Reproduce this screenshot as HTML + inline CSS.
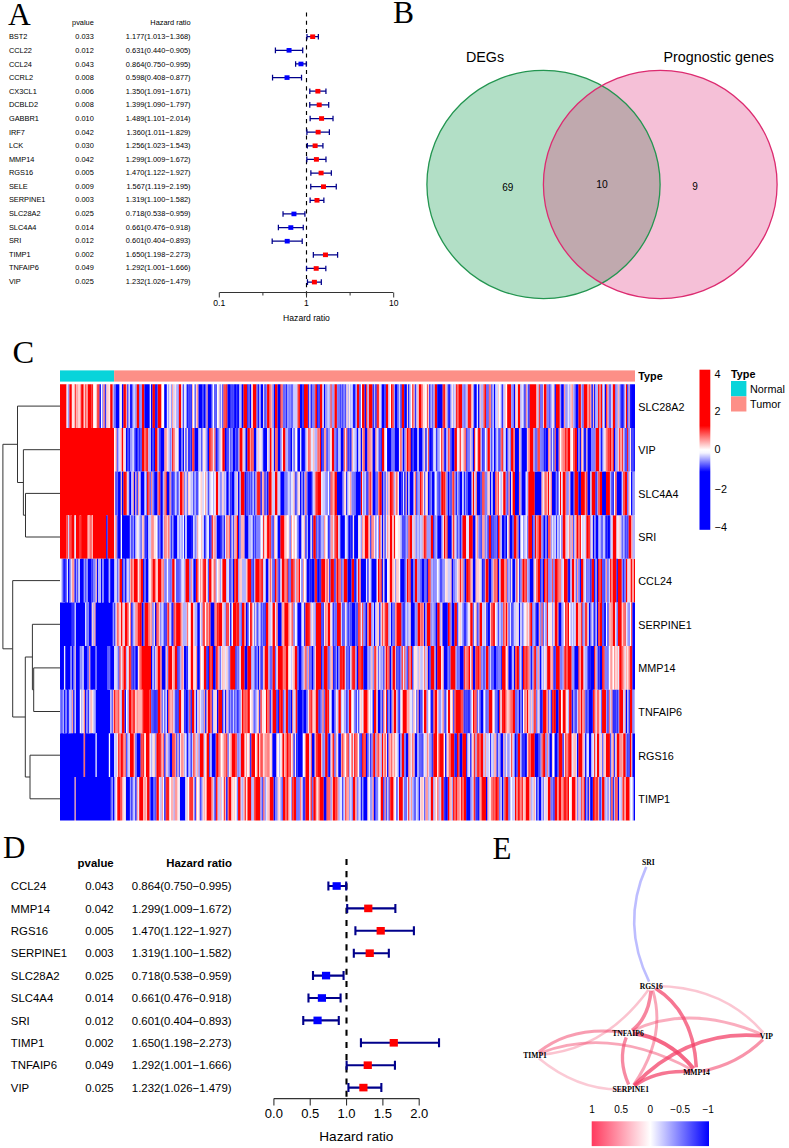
<!DOCTYPE html>
<html><head><meta charset="utf-8"><style>
html,body{margin:0;padding:0;background:#fff;width:789px;height:1148px;overflow:hidden}
svg{display:block}
</style></head><body>
<svg width="789" height="1148" viewBox="0 0 789 1148">
<rect width="789" height="1148" fill="#fff"/>
<text x="8" y="25.3" font-family="Liberation Serif, serif" font-size="31.5">A</text>
<g font-family="Liberation Sans, sans-serif" font-size="7.4" fill="#000">
<text x="93.8" y="25.45" text-anchor="end">pvalue</text>
<text x="190.6" y="25.45" text-anchor="end">Hazard ratio</text>
<text x="8.9" y="39.40">BST2</text>
<text x="93.8" y="39.40" text-anchor="end">0.033</text>
<text x="190.6" y="39.40" text-anchor="end">1.177(1.013−1.368)</text>
<text x="8.9" y="52.99">CCL22</text>
<text x="93.8" y="52.99" text-anchor="end">0.012</text>
<text x="190.6" y="52.99" text-anchor="end">0.631(0.440−0.905)</text>
<text x="8.9" y="66.57">CCL24</text>
<text x="93.8" y="66.57" text-anchor="end">0.043</text>
<text x="190.6" y="66.57" text-anchor="end">0.864(0.750−0.995)</text>
<text x="8.9" y="80.16">CCRL2</text>
<text x="93.8" y="80.16" text-anchor="end">0.008</text>
<text x="190.6" y="80.16" text-anchor="end">0.598(0.408−0.877)</text>
<text x="8.9" y="93.74">CX3CL1</text>
<text x="93.8" y="93.74" text-anchor="end">0.006</text>
<text x="190.6" y="93.74" text-anchor="end">1.350(1.091−1.671)</text>
<text x="8.9" y="107.33">DCBLD2</text>
<text x="93.8" y="107.33" text-anchor="end">0.008</text>
<text x="190.6" y="107.33" text-anchor="end">1.399(1.090−1.797)</text>
<text x="8.9" y="120.92">GABBR1</text>
<text x="93.8" y="120.92" text-anchor="end">0.010</text>
<text x="190.6" y="120.92" text-anchor="end">1.489(1.101−2.014)</text>
<text x="8.9" y="134.50">IRF7</text>
<text x="93.8" y="134.50" text-anchor="end">0.042</text>
<text x="190.6" y="134.50" text-anchor="end">1.360(1.011−1.829)</text>
<text x="8.9" y="148.09">LCK</text>
<text x="93.8" y="148.09" text-anchor="end">0.030</text>
<text x="190.6" y="148.09" text-anchor="end">1.256(1.023−1.543)</text>
<text x="8.9" y="161.67">MMP14</text>
<text x="93.8" y="161.67" text-anchor="end">0.042</text>
<text x="190.6" y="161.67" text-anchor="end">1.299(1.009−1.672)</text>
<text x="8.9" y="175.26">RGS16</text>
<text x="93.8" y="175.26" text-anchor="end">0.005</text>
<text x="190.6" y="175.26" text-anchor="end">1.470(1.122−1.927)</text>
<text x="8.9" y="188.85">SELE</text>
<text x="93.8" y="188.85" text-anchor="end">0.009</text>
<text x="190.6" y="188.85" text-anchor="end">1.567(1.119−2.195)</text>
<text x="8.9" y="202.43">SERPINE1</text>
<text x="93.8" y="202.43" text-anchor="end">0.003</text>
<text x="190.6" y="202.43" text-anchor="end">1.319(1.100−1.582)</text>
<text x="8.9" y="216.02">SLC28A2</text>
<text x="93.8" y="216.02" text-anchor="end">0.025</text>
<text x="190.6" y="216.02" text-anchor="end">0.718(0.538−0.959)</text>
<text x="8.9" y="229.60">SLC4A4</text>
<text x="93.8" y="229.60" text-anchor="end">0.014</text>
<text x="190.6" y="229.60" text-anchor="end">0.661(0.476−0.918)</text>
<text x="8.9" y="243.19">SRI</text>
<text x="93.8" y="243.19" text-anchor="end">0.012</text>
<text x="190.6" y="243.19" text-anchor="end">0.601(0.404−0.893)</text>
<text x="8.9" y="256.78">TIMP1</text>
<text x="93.8" y="256.78" text-anchor="end">0.002</text>
<text x="190.6" y="256.78" text-anchor="end">1.650(1.198−2.273)</text>
<text x="8.9" y="270.36">TNFAIP6</text>
<text x="93.8" y="270.36" text-anchor="end">0.049</text>
<text x="190.6" y="270.36" text-anchor="end">1.292(1.001−1.666)</text>
<text x="8.9" y="283.95">VIP</text>
<text x="93.8" y="283.95" text-anchor="end">0.025</text>
<text x="190.6" y="283.95" text-anchor="end">1.232(1.026−1.479)</text>
</g>
<line x1="306.50" y1="12.5" x2="306.50" y2="297" stroke="#000" stroke-width="1.15" stroke-dasharray="4.1,4.1"/>
<path d="M306.99 36.70H318.37M306.99 33.90v5.6M318.37 33.90v5.6" stroke="#00008b" stroke-width="1.25" fill="none"/>
<rect x="310.17" y="34.40" width="5" height="4.6" fill="#ff0000"/>
<path d="M275.41 50.33H302.72M275.41 47.53v5.6M302.72 47.53v5.6" stroke="#00008b" stroke-width="1.25" fill="none"/>
<rect x="286.56" y="48.03" width="5" height="4.6" fill="#0000ff"/>
<path d="M295.61 63.97H306.31M295.61 61.17v5.6M306.31 61.17v5.6" stroke="#00008b" stroke-width="1.25" fill="none"/>
<rect x="298.46" y="61.67" width="5" height="4.6" fill="#0000ff"/>
<path d="M272.55 77.60H301.53M272.55 74.80v5.6M301.53 74.80v5.6" stroke="#00008b" stroke-width="1.25" fill="none"/>
<rect x="284.53" y="75.30" width="5" height="4.6" fill="#0000ff"/>
<path d="M309.80 91.23H325.94M309.80 88.43v5.6M325.94 88.43v5.6" stroke="#00008b" stroke-width="1.25" fill="none"/>
<rect x="315.37" y="88.93" width="5" height="4.6" fill="#ff0000"/>
<path d="M309.76 104.86H328.70M309.76 102.06v5.6M328.70 102.06v5.6" stroke="#00008b" stroke-width="1.25" fill="none"/>
<rect x="316.72" y="102.56" width="5" height="4.6" fill="#ff0000"/>
<path d="M310.14 118.50H333.01M310.14 115.70v5.6M333.01 115.70v5.6" stroke="#00008b" stroke-width="1.25" fill="none"/>
<rect x="319.08" y="116.20" width="5" height="4.6" fill="#ff0000"/>
<path d="M306.91 132.13H329.37M306.91 129.33v5.6M329.37 129.33v5.6" stroke="#00008b" stroke-width="1.25" fill="none"/>
<rect x="315.64" y="129.83" width="5" height="4.6" fill="#ff0000"/>
<path d="M307.36 145.76H322.93M307.36 142.96v5.6M322.93 142.96v5.6" stroke="#00008b" stroke-width="1.25" fill="none"/>
<rect x="312.63" y="143.46" width="5" height="4.6" fill="#ff0000"/>
<path d="M306.84 159.40H325.97M306.84 156.60v5.6M325.97 156.60v5.6" stroke="#00008b" stroke-width="1.25" fill="none"/>
<rect x="313.91" y="157.10" width="5" height="4.6" fill="#ff0000"/>
<path d="M310.86 173.03H331.34M310.86 170.23v5.6M331.34 170.23v5.6" stroke="#00008b" stroke-width="1.25" fill="none"/>
<rect x="318.59" y="170.73" width="5" height="4.6" fill="#ff0000"/>
<path d="M310.76 186.66H336.27M310.76 183.86v5.6M336.27 183.86v5.6" stroke="#00008b" stroke-width="1.25" fill="none"/>
<rect x="321.01" y="184.36" width="5" height="4.6" fill="#ff0000"/>
<path d="M310.11 200.30H323.87M310.11 197.50v5.6M323.87 197.50v5.6" stroke="#00008b" stroke-width="1.25" fill="none"/>
<rect x="314.49" y="198.00" width="5" height="4.6" fill="#ff0000"/>
<path d="M283.02 213.93H304.91M283.02 211.13v5.6M304.91 211.13v5.6" stroke="#00008b" stroke-width="1.25" fill="none"/>
<rect x="291.45" y="211.63" width="5" height="4.6" fill="#0000ff"/>
<path d="M278.39 227.56H303.26M278.39 224.76v5.6M303.26 224.76v5.6" stroke="#00008b" stroke-width="1.25" fill="none"/>
<rect x="288.32" y="225.26" width="5" height="4.6" fill="#0000ff"/>
<path d="M272.18 241.19H302.21M272.18 238.39v5.6M302.21 238.39v5.6" stroke="#00008b" stroke-width="1.25" fill="none"/>
<rect x="284.72" y="238.89" width="5" height="4.6" fill="#0000ff"/>
<path d="M313.34 254.83H337.60M313.34 252.03v5.6M337.60 252.03v5.6" stroke="#00008b" stroke-width="1.25" fill="none"/>
<rect x="322.96" y="252.53" width="5" height="4.6" fill="#ff0000"/>
<path d="M306.54 268.46H325.83M306.54 265.66v5.6M325.83 265.66v5.6" stroke="#00008b" stroke-width="1.25" fill="none"/>
<rect x="313.70" y="266.16" width="5" height="4.6" fill="#ff0000"/>
<path d="M307.47 282.09H321.32M307.47 279.29v5.6M321.32 279.29v5.6" stroke="#00008b" stroke-width="1.25" fill="none"/>
<rect x="311.90" y="279.79" width="5" height="4.6" fill="#ff0000"/>
<path d="M219.5 292.5H393.2" stroke="#333" stroke-width="1"/>
<path d="M219.30 292.5v5" stroke="#333" stroke-width="1"/>
<path d="M262.90 292.5v3" stroke="#333" stroke-width="1"/>
<path d="M306.50 292.5v5" stroke="#333" stroke-width="1"/>
<path d="M350.10 292.5v3" stroke="#333" stroke-width="1"/>
<path d="M393.70 292.5v5" stroke="#333" stroke-width="1"/>
<g font-family="Liberation Sans, sans-serif" font-size="8.6" text-anchor="middle">
<text x="219.30" y="306">0.1</text>
<text x="306.50" y="306">1</text>
<text x="393.70" y="306">10</text>
<text x="306.5" y="320.8">Hazard ratio</text>
</g>
<text x="393" y="23.2" font-family="Liberation Serif, serif" font-size="31.5">B</text>
<ellipse cx="543.5" cy="184.45" rx="116.6" ry="114.15" fill="#b2dfc6"/>
<ellipse cx="660.25" cy="184.45" rx="116.85" ry="114.15" fill="#f5c0d7"/>
<clipPath id="cg"><ellipse cx="543.5" cy="184.45" rx="116.6" ry="114.15"/></clipPath>
<ellipse cx="660.25" cy="184.45" rx="116.85" ry="114.15" fill="#c0a9ae" clip-path="url(#cg)"/>
<ellipse cx="543.5" cy="184.45" rx="116.6" ry="114.15" fill="none" stroke="#239550" stroke-width="1.3"/>
<ellipse cx="660.25" cy="184.45" rx="116.85" ry="114.15" fill="none" stroke="#dc2b70" stroke-width="1.3"/>
<g font-family="Liberation Sans, sans-serif" text-anchor="middle">
<text x="485" y="61.5" font-size="14.3">DEGs</text>
<text x="718.8" y="61.5" font-size="14.3">Prognostic genes</text>
<text x="507.8" y="190.5" font-size="10">69</text>
<text x="602" y="188.3" font-size="10.3">10</text>
<text x="695" y="189.5" font-size="10">9</text>
</g>
<text x="12.6" y="362.6" font-family="Liberation Serif, serif" font-size="32.5">C</text>
<rect x="60" y="370.4" width="54.1" height="11.2" fill="#08d4da"/>
<rect x="114.1" y="370.4" width="520.9" height="11.2" fill="#fd8f87"/>
<g>
<path fill="#ff0000" d="M60.00 384.30H66.59V427.93H60.00zM69.23 384.30H71.87V427.93H69.23zM74.51 384.30H75.83V427.93H74.51zM81.10 384.30H83.74V427.93H81.10zM87.69 384.30H91.65V427.93H87.69zM98.25 384.30H99.56V427.93H98.25zM110.11 384.30H112.75V427.93H110.11zM123.30 384.30H125.94V427.93H123.30zM136.49 384.30H139.13V427.93H136.49zM141.77 384.30H144.40V427.93H141.77zM152.32 384.30H154.95V427.93H152.32zM157.59 384.30H161.55V427.93H157.59zM178.69 384.30H181.33V427.93H178.69zM226.17 384.30H227.49V427.93H226.17zM243.31 384.30H247.27V427.93H243.31zM252.55 384.30H256.50V427.93H252.55zM267.05 384.30H269.69V427.93H267.05zM274.97 384.30H277.60V427.93H274.97zM280.24 384.30H281.56V427.93H280.24zM297.39 384.30H298.70V427.93H297.39zM303.98 384.30H307.94V427.93H303.98zM315.85 384.30H317.17V427.93H315.85zM319.81 384.30H322.44V427.93H319.81zM330.36 384.30H331.67V427.93H330.36zM334.31 384.30H336.95V427.93H334.31zM356.73 384.30H359.37V427.93H356.73zM362.01 384.30H364.64V427.93H362.01zM368.60 384.30H372.56V427.93H368.60zM376.51 384.30H377.83V427.93H376.51zM385.75 384.30H388.38V427.93H385.75zM391.02 384.30H392.34V427.93H391.02zM401.57 384.30H404.21V427.93H401.57zM418.72 384.30H421.35V427.93H418.72zM434.54 384.30H437.18V427.93H434.54zM442.45 384.30H443.77V427.93H442.45zM458.28 384.30H462.24V427.93H458.28zM470.15 384.30H471.47V427.93H470.15zM484.66 384.30H485.97V427.93H484.66zM507.08 384.30H511.03V427.93H507.08zM517.63 384.30H520.26V427.93H517.63zM529.50 384.30H536.09V427.93H529.50zM544.00 384.30H546.64V427.93H544.00zM555.87 384.30H559.83V427.93H555.87zM578.29 384.30H580.93V427.93H578.29zM583.57 384.30H587.52V427.93H583.57zM598.07 384.30H599.39V427.93H598.07zM600.71 384.30H602.03V427.93H600.71zM612.58 384.30H615.22V427.93H612.58zM625.77 384.30H627.09V427.93H625.77zM60.00 427.93H114.07V471.56H60.00zM121.98 427.93H123.30V471.56H121.98zM141.77 427.93H144.40V471.56H141.77zM154.95 427.93H157.59V471.56H154.95zM172.10 427.93H173.42V471.56H172.10zM193.20 427.93H194.52V471.56H193.20zM210.34 427.93H211.66V471.56H210.34zM222.21 427.93H224.85V471.56H222.21zM239.36 427.93H242.00V471.56H239.36zM247.27 427.93H249.91V471.56H247.27zM251.23 427.93H252.55V471.56H251.23zM269.69 427.93H271.01V471.56H269.69zM282.88 427.93H285.52V471.56H282.88zM319.81 427.93H321.12V471.56H319.81zM331.67 427.93H334.31V471.56H331.67zM381.79 427.93H384.43V471.56H381.79zM406.85 427.93H408.17V471.56H406.85zM409.48 427.93H410.80V471.56H409.48zM441.14 427.93H442.45V471.56H441.14zM454.32 427.93H456.96V471.56H454.32zM474.11 427.93H475.42V471.56H474.11zM478.06 427.93H480.70V471.56H478.06zM487.29 427.93H489.93V471.56H487.29zM511.03 427.93H513.67V471.56H511.03zM529.50 427.93H533.45V471.56H529.50zM537.41 427.93H538.73V471.56H537.41zM565.10 427.93H566.42V471.56H565.10zM567.74 427.93H570.38V471.56H567.74zM574.33 427.93H576.97V471.56H574.33zM595.44 427.93H599.39V471.56H595.44zM609.94 427.93H611.26V471.56H609.94zM612.58 427.93H613.90V471.56H612.58zM619.17 427.93H620.49V471.56H619.17zM627.09 427.93H628.41V471.56H627.09zM60.00 471.56H114.07V515.19H60.00zM123.30 471.56H125.94V515.19H123.30zM147.04 471.56H148.36V515.19H147.04zM165.50 471.56H166.82V515.19H165.50zM180.01 471.56H182.65V515.19H180.01zM215.62 471.56H218.26V515.19H215.62zM240.68 471.56H244.63V515.19H240.68zM256.50 471.56H257.82V515.19H256.50zM259.14 471.56H260.46V515.19H259.14zM268.37 471.56H271.01V515.19H268.37zM274.97 471.56H277.60V515.19H274.97zM317.17 471.56H321.12V515.19H317.17zM330.36 471.56H331.67V515.19H330.36zM334.31 471.56H336.95V515.19H334.31zM360.69 471.56H362.01V515.19H360.69zM379.15 471.56H381.79V515.19H379.15zM389.70 471.56H391.02V515.19H389.70zM392.34 471.56H393.66V515.19H392.34zM396.30 471.56H397.61V515.19H396.30zM420.03 471.56H421.35V515.19H420.03zM441.14 471.56H443.77V515.19H441.14zM472.79 471.56H474.11V515.19H472.79zM483.34 471.56H484.66V515.19H483.34zM503.12 471.56H505.76V515.19H503.12zM512.35 471.56H514.99V515.19H512.35zM528.18 471.56H534.77V515.19H528.18zM545.32 471.56H546.64V515.19H545.32zM547.96 471.56H549.28V515.19H547.96zM559.83 471.56H561.15V515.19H559.83zM562.47 471.56H565.10V515.19H562.47zM574.33 471.56H578.29V515.19H574.33zM580.93 471.56H584.89V515.19H580.93zM591.48 471.56H595.44V515.19H591.48zM599.39 471.56H602.03V515.19H599.39zM605.99 471.56H609.94V515.19H605.99zM624.45 471.56H627.09V515.19H624.45zM60.00 515.19H66.59V558.82H60.00zM69.23 515.19H70.55V558.82H69.23zM71.87 515.19H74.51V558.82H71.87zM75.83 515.19H79.78V558.82H75.83zM81.10 515.19H87.69V558.82H81.10zM90.33 515.19H91.65V558.82H90.33zM92.97 515.19H106.16V558.82H92.97zM107.48 515.19H114.07V558.82H107.48zM236.72 515.19H238.04V558.82H236.72zM263.10 515.19H264.42V558.82H263.10zM267.05 515.19H269.69V558.82H267.05zM280.24 515.19H284.20V558.82H280.24zM313.21 515.19H315.85V558.82H313.21zM334.31 515.19H335.63V558.82H334.31zM336.95 515.19H338.27V558.82H336.95zM364.64 515.19H368.60V558.82H364.64zM389.70 515.19H392.34V558.82H389.70zM393.66 515.19H394.98V558.82H393.66zM409.48 515.19H412.12V558.82H409.48zM425.31 515.19H426.63V558.82H425.31zM430.58 515.19H433.22V558.82H430.58zM443.77 515.19H445.09V558.82H443.77zM446.41 515.19H447.73V558.82H446.41zM462.24 515.19H466.19V558.82H462.24zM468.83 515.19H472.79V558.82H468.83zM488.61 515.19H491.25V558.82H488.61zM497.84 515.19H499.16V558.82H497.84zM513.67 515.19H516.31V558.82H513.67zM528.18 515.19H532.13V558.82H528.18zM534.77 515.19H536.09V558.82H534.77zM538.73 515.19H541.36V558.82H538.73zM562.47 515.19H565.10V558.82H562.47zM576.97 515.19H578.29V558.82H576.97zM579.61 515.19H580.93V558.82H579.61zM586.20 515.19H588.84V558.82H586.20zM612.58 515.19H616.54V558.82H612.58zM628.41 515.19H631.04V558.82H628.41zM119.35 558.82H121.98V602.45H119.35zM131.22 558.82H132.53V602.45H131.22zM133.85 558.82H137.81V602.45H133.85zM140.45 558.82H143.08V602.45H140.45zM152.32 558.82H154.95V602.45H152.32zM157.59 558.82H161.55V602.45H157.59zM172.10 558.82H174.74V602.45H172.10zM185.29 558.82H189.24V602.45H185.29zM195.84 558.82H197.16V602.45H195.84zM202.43 558.82H203.75V602.45H202.43zM205.07 558.82H206.39V602.45H205.07zM209.03 558.82H211.66V602.45H209.03zM214.30 558.82H215.62V602.45H214.30zM222.21 558.82H226.17V602.45H222.21zM235.40 558.82H238.04V602.45H235.40zM247.27 558.82H251.23V602.45H247.27zM255.18 558.82H259.14V602.45H255.18zM260.46 558.82H261.78V602.45H260.46zM274.97 558.82H276.28V602.45H274.97zM281.56 558.82H284.20V602.45H281.56zM292.11 558.82H293.43V602.45H292.11zM298.70 558.82H300.02V602.45H298.70zM314.53 558.82H315.85V602.45H314.53zM321.12 558.82H325.08V602.45H321.12zM326.40 558.82H327.72V602.45H326.40zM330.36 558.82H332.99V602.45H330.36zM336.95 558.82H338.27V602.45H336.95zM343.54 558.82H347.50V602.45H343.54zM351.46 558.82H354.09V602.45H351.46zM358.05 558.82H359.37V602.45H358.05zM377.83 558.82H379.15V602.45H377.83zM380.47 558.82H381.79V602.45H380.47zM389.70 558.82H392.34V602.45H389.70zM406.85 558.82H408.17V602.45H406.85zM414.76 558.82H417.40V602.45H414.76zM459.60 558.82H460.92V602.45H459.60zM466.19 558.82H468.83V602.45H466.19zM485.97 558.82H488.61V602.45H485.97zM496.53 558.82H497.84V602.45H496.53zM500.48 558.82H504.44V602.45H500.48zM516.31 558.82H517.63V602.45H516.31zM522.90 558.82H524.22V602.45H522.90zM525.54 558.82H526.86V602.45H525.54zM537.41 558.82H540.05V602.45H537.41zM544.00 558.82H545.32V602.45H544.00zM546.64 558.82H547.96V602.45H546.64zM554.55 558.82H557.19V602.45H554.55zM563.78 558.82H567.74V602.45H563.78zM571.70 558.82H574.33V602.45H571.70zM580.93 558.82H583.57V602.45H580.93zM591.48 558.82H594.12V602.45H591.48zM598.07 558.82H599.39V602.45H598.07zM600.71 558.82H602.03V602.45H600.71zM612.58 558.82H616.54V602.45H612.58zM617.86 558.82H621.81V602.45H617.86zM625.77 558.82H627.09V602.45H625.77zM631.04 558.82H632.36V602.45H631.04zM633.68 558.82H635.00V602.45H633.68zM120.67 602.45H121.98V646.08H120.67zM124.62 602.45H127.26V646.08H124.62zM139.13 602.45H141.77V646.08H139.13zM144.40 602.45H148.36V646.08H144.40zM156.27 602.45H157.59V646.08H156.27zM168.14 602.45H169.46V646.08H168.14zM176.06 602.45H180.01V646.08H176.06zM190.56 602.45H193.20V646.08H190.56zM202.43 602.45H203.75V646.08H202.43zM218.26 602.45H222.21V646.08H218.26zM226.17 602.45H227.49V646.08H226.17zM232.76 602.45H236.72V646.08H232.76zM242.00 602.45H244.63V646.08H242.00zM251.23 602.45H252.55V646.08H251.23zM265.73 602.45H268.37V646.08H265.73zM272.33 602.45H274.97V646.08H272.33zM284.20 602.45H288.15V646.08H284.20zM305.30 602.45H307.94V646.08H305.30zM309.25 602.45H310.57V646.08H309.25zM315.85 602.45H321.12V646.08H315.85zM327.72 602.45H330.36V646.08H327.72zM336.95 602.45H340.91V646.08H336.95zM359.37 602.45H360.69V646.08H359.37zM368.60 602.45H371.24V646.08H368.60zM384.43 602.45H385.75V646.08H384.43zM387.06 602.45H388.38V646.08H387.06zM396.30 602.45H401.57V646.08H396.30zM417.40 602.45H420.03V646.08H417.40zM421.35 602.45H422.67V646.08H421.35zM426.63 602.45H430.58V646.08H426.63zM437.18 602.45H439.82V646.08H437.18zM447.73 602.45H449.05V646.08H447.73zM454.32 602.45H456.96V646.08H454.32zM470.15 602.45H472.79V646.08H470.15zM479.38 602.45H482.02V646.08H479.38zM492.57 602.45H493.89V646.08H492.57zM505.76 602.45H507.08V646.08H505.76zM530.81 602.45H532.13V646.08H530.81zM546.64 602.45H547.96V646.08H546.64zM554.55 602.45H557.19V646.08H554.55zM565.10 602.45H566.42V646.08H565.10zM567.74 602.45H569.06V646.08H567.74zM575.65 602.45H578.29V646.08H575.65zM586.20 602.45H587.52V646.08H586.20zM599.39 602.45H602.03V646.08H599.39zM612.58 602.45H615.22V646.08H612.58zM617.86 602.45H621.81V646.08H617.86zM624.45 602.45H625.77V646.08H624.45zM119.35 646.08H120.67V689.71H119.35zM123.30 646.08H125.94V689.71H123.30zM128.58 646.08H129.90V689.71H128.58zM141.77 646.08H151.00V689.71H141.77zM157.59 646.08H160.23V689.71H157.59zM168.14 646.08H172.10V689.71H168.14zM174.74 646.08H177.37V689.71H174.74zM190.56 646.08H193.20V689.71H190.56zM203.75 646.08H206.39V689.71H203.75zM209.03 646.08H210.34V689.71H209.03zM211.66 646.08H212.98V689.71H211.66zM230.13 646.08H235.40V689.71H230.13zM240.68 646.08H244.63V689.71H240.68zM247.27 646.08H251.23V689.71H247.27zM264.42 646.08H268.37V689.71H264.42zM272.33 646.08H274.97V689.71H272.33zM277.60 646.08H282.88V689.71H277.60zM285.52 646.08H288.15V689.71H285.52zM294.75 646.08H297.39V689.71H294.75zM305.30 646.08H306.62V689.71H305.30zM315.85 646.08H321.12V689.71H315.85zM323.76 646.08H327.72V689.71H323.76zM339.59 646.08H340.91V689.71H339.59zM342.22 646.08H344.86V689.71H342.22zM351.46 646.08H352.78V689.71H351.46zM354.09 646.08H355.41V689.71H354.09zM359.37 646.08H360.69V689.71H359.37zM362.01 646.08H363.33V689.71H362.01zM375.19 646.08H376.51V689.71H375.19zM385.75 646.08H387.06V689.71H385.75zM388.38 646.08H389.70V689.71H388.38zM392.34 646.08H394.98V689.71H392.34zM408.17 646.08H409.48V689.71H408.17zM410.80 646.08H412.12V689.71H410.80zM430.58 646.08H434.54V689.71H430.58zM437.18 646.08H441.14V689.71H437.18zM450.37 646.08H455.64V689.71H450.37zM463.56 646.08H464.87V689.71H463.56zM468.83 646.08H470.15V689.71H468.83zM478.06 646.08H479.38V689.71H478.06zM485.97 646.08H488.61V689.71H485.97zM501.80 646.08H505.76V689.71H501.80zM516.31 646.08H518.94V689.71H516.31zM522.90 646.08H524.22V689.71H522.90zM525.54 646.08H526.86V689.71H525.54zM533.45 646.08H534.77V689.71H533.45zM547.96 646.08H550.60V689.71H547.96zM555.87 646.08H559.83V689.71H555.87zM565.10 646.08H566.42V689.71H565.10zM567.74 646.08H571.70V689.71H567.74zM578.29 646.08H579.61V689.71H578.29zM580.93 646.08H583.57V689.71H580.93zM594.12 646.08H595.44V689.71H594.12zM603.35 646.08H604.67V689.71H603.35zM619.17 646.08H621.81V689.71H619.17zM631.04 646.08H632.36V689.71H631.04zM114.07 689.71H115.39V733.34H114.07zM121.98 689.71H124.62V733.34H121.98zM128.58 689.71H131.22V733.34H128.58zM143.08 689.71H149.68V733.34H143.08zM157.59 689.71H160.23V733.34H157.59zM178.69 689.71H181.33V733.34H178.69zM191.88 689.71H194.52V733.34H191.88zM207.71 689.71H210.34V733.34H207.71zM218.26 689.71H222.21V733.34H218.26zM242.00 689.71H243.31V733.34H242.00zM247.27 689.71H249.91V733.34H247.27zM265.73 689.71H267.05V733.34H265.73zM272.33 689.71H276.28V733.34H272.33zM280.24 689.71H282.88V733.34H280.24zM285.52 689.71H288.15V733.34H285.52zM296.07 689.71H297.39V733.34H296.07zM310.57 689.71H311.89V733.34H310.57zM315.85 689.71H318.49V733.34H315.85zM325.08 689.71H327.72V733.34H325.08zM338.27 689.71H340.91V733.34H338.27zM348.82 689.71H351.46V733.34H348.82zM363.33 689.71H367.28V733.34H363.33zM373.88 689.71H376.51V733.34H373.88zM393.66 689.71H396.30V733.34H393.66zM402.89 689.71H406.85V733.34H402.89zM423.99 689.71H426.63V733.34H423.99zM434.54 689.71H437.18V733.34H434.54zM447.73 689.71H450.37V733.34H447.73zM455.64 689.71H460.92V733.34H455.64zM472.79 689.71H474.11V733.34H472.79zM488.61 689.71H492.57V733.34H488.61zM499.16 689.71H500.48V733.34H499.16zM503.12 689.71H505.76V733.34H503.12zM512.35 689.71H514.99V733.34H512.35zM526.86 689.71H528.18V733.34H526.86zM533.45 689.71H534.77V733.34H533.45zM542.68 689.71H546.64V733.34H542.68zM553.23 689.71H555.87V733.34H553.23zM558.51 689.71H561.15V733.34H558.51zM562.47 689.71H565.10V733.34H562.47zM569.06 689.71H571.70V733.34H569.06zM578.29 689.71H579.61V733.34H578.29zM580.93 689.71H582.25V733.34H580.93zM602.03 689.71H605.99V733.34H602.03zM619.17 689.71H623.13V733.34H619.17zM629.72 689.71H632.36V733.34H629.72zM120.67 733.34H121.98V776.97H120.67zM129.90 733.34H133.85V776.97H129.90zM140.45 733.34H141.77V776.97H140.45zM145.72 733.34H149.68V776.97H145.72zM156.27 733.34H158.91V776.97H156.27zM160.23 733.34H161.55V776.97H160.23zM173.42 733.34H174.74V776.97H173.42zM199.79 733.34H203.75V776.97H199.79zM206.39 733.34H209.03V776.97H206.39zM216.94 733.34H218.26V776.97H216.94zM226.17 733.34H227.49V776.97H226.17zM231.44 733.34H235.40V776.97H231.44zM240.68 733.34H244.63V776.97H240.68zM251.23 733.34H255.18V776.97H251.23zM257.82 733.34H259.14V776.97H257.82zM282.88 733.34H284.20V776.97H282.88zM286.83 733.34H288.15V776.97H286.83zM305.30 733.34H309.25V776.97H305.30zM317.17 733.34H321.12V776.97H317.17zM325.08 733.34H327.72V776.97H325.08zM342.22 733.34H343.54V776.97H342.22zM347.50 733.34H348.82V776.97H347.50zM363.33 733.34H364.64V776.97H363.33zM373.88 733.34H375.19V776.97H373.88zM381.79 733.34H383.11V776.97H381.79zM384.43 733.34H385.75V776.97H384.43zM401.57 733.34H404.21V776.97H401.57zM433.22 733.34H437.18V776.97H433.22zM439.82 733.34H443.77V776.97H439.82zM450.37 733.34H454.32V776.97H450.37zM456.96 733.34H458.28V776.97H456.96zM462.24 733.34H466.19V776.97H462.24zM474.11 733.34H475.42V776.97H474.11zM480.70 733.34H483.34V776.97H480.70zM517.63 733.34H520.26V776.97H517.63zM530.81 733.34H534.77V776.97H530.81zM544.00 733.34H545.32V776.97H544.00zM558.51 733.34H562.47V776.97H558.51zM569.06 733.34H571.70V776.97H569.06zM578.29 733.34H582.25V776.97H578.29zM594.12 733.34H595.44V776.97H594.12zM596.75 733.34H599.39V776.97H596.75zM605.99 733.34H609.94V776.97H605.99zM616.54 733.34H619.17V776.97H616.54zM623.13 733.34H625.77V776.97H623.13zM629.72 733.34H631.04V776.97H629.72zM118.03 776.97H120.67V820.60H118.03zM139.13 776.97H143.08V820.60H139.13zM147.04 776.97H149.68V820.60H147.04zM156.27 776.97H158.91V820.60H156.27zM165.50 776.97H166.82V820.60H165.50zM168.14 776.97H169.46V820.60H168.14zM206.39 776.97H211.66V820.60H206.39zM215.62 776.97H216.94V820.60H215.62zM223.53 776.97H224.85V820.60H223.53zM228.81 776.97H231.44V820.60H228.81zM238.04 776.97H240.68V820.60H238.04zM247.27 776.97H251.23V820.60H247.27zM255.18 776.97H260.46V820.60H255.18zM269.69 776.97H273.65V820.60H269.69zM282.88 776.97H285.52V820.60H282.88zM293.43 776.97H296.07V820.60H293.43zM305.30 776.97H309.25V820.60H305.30zM313.21 776.97H315.85V820.60H313.21zM319.81 776.97H323.76V820.60H319.81zM332.99 776.97H335.63V820.60H332.99zM352.78 776.97H355.41V820.60H352.78zM380.47 776.97H383.11V820.60H380.47zM391.02 776.97H393.66V820.60H391.02zM398.93 776.97H402.89V820.60H398.93zM408.17 776.97H409.48V820.60H408.17zM430.58 776.97H433.22V820.60H430.58zM441.14 776.97H443.77V820.60H441.14zM447.73 776.97H449.05V820.60H447.73zM455.64 776.97H456.96V820.60H455.64zM463.56 776.97H466.19V820.60H463.56zM474.11 776.97H475.42V820.60H474.11zM482.02 776.97H485.97V820.60H482.02zM495.21 776.97H497.84V820.60H495.21zM505.76 776.97H508.39V820.60H505.76zM514.99 776.97H516.31V820.60H514.99zM517.63 776.97H518.94V820.60H517.63zM525.54 776.97H529.50V820.60H525.54zM547.96 776.97H550.60V820.60H547.96zM554.55 776.97H557.19V820.60H554.55zM558.51 776.97H561.15V820.60H558.51zM565.10 776.97H566.42V820.60H565.10zM567.74 776.97H569.06V820.60H567.74zM571.70 776.97H575.65V820.60H571.70zM583.57 776.97H584.89V820.60H583.57zM592.80 776.97H594.12V820.60H592.80zM602.03 776.97H604.67V820.60H602.03zM615.22 776.97H616.54V820.60H615.22zM623.13 776.97H624.45V820.60H623.13zM625.77 776.97H629.72V820.60H625.77z"/>
<path fill="#e6e6ff" d="M66.59 384.30H67.91V427.93H66.59zM120.67 384.30H121.98V427.93H120.67zM149.68 384.30H151.00V427.93H149.68zM166.82 384.30H168.14V427.93H166.82zM181.33 384.30H182.65V427.93H181.33zM183.97 384.30H186.61V427.93H183.97zM220.89 384.30H222.21V427.93H220.89zM351.46 384.30H352.78V427.93H351.46zM476.74 384.30H478.06V427.93H476.74zM516.31 384.30H517.63V427.93H516.31zM521.58 384.30H522.90V427.93H521.58zM551.92 384.30H553.23V427.93H551.92zM567.74 384.30H569.06V427.93H567.74zM119.35 427.93H120.67V471.56H119.35zM124.62 427.93H125.94V471.56H124.62zM132.53 427.93H133.85V471.56H132.53zM176.06 427.93H177.37V471.56H176.06zM212.98 427.93H214.30V471.56H212.98zM259.14 427.93H260.46V471.56H259.14zM300.02 427.93H301.34V471.56H300.02zM310.57 427.93H313.21V471.56H310.57zM352.78 427.93H354.09V471.56H352.78zM376.51 427.93H377.83V471.56H376.51zM384.43 427.93H385.75V471.56H384.43zM426.63 427.93H427.95V471.56H426.63zM433.22 427.93H434.54V471.56H433.22zM456.96 427.93H458.28V471.56H456.96zM462.24 427.93H463.56V471.56H462.24zM551.92 427.93H553.23V471.56H551.92zM603.35 427.93H604.67V471.56H603.35zM210.34 471.56H211.66V515.19H210.34zM290.79 471.56H293.43V515.19H290.79zM321.12 471.56H322.44V515.19H321.12zM362.01 471.56H363.33V515.19H362.01zM402.89 471.56H404.21V515.19H402.89zM511.03 471.56H512.35V515.19H511.03zM525.54 471.56H526.86V515.19H525.54zM542.68 471.56H544.00V515.19H542.68zM549.28 471.56H550.60V515.19H549.28zM561.15 471.56H562.47V515.19H561.15zM74.51 515.19H75.83V558.82H74.51zM114.07 515.19H115.39V558.82H114.07zM137.81 515.19H139.13V558.82H137.81zM206.39 515.19H209.03V558.82H206.39zM224.85 515.19H226.17V558.82H224.85zM231.44 515.19H232.76V558.82H231.44zM261.78 515.19H263.10V558.82H261.78zM276.28 515.19H277.60V558.82H276.28zM296.07 515.19H297.39V558.82H296.07zM302.66 515.19H303.98V558.82H302.66zM332.99 515.19H334.31V558.82H332.99zM344.86 515.19H346.18V558.82H344.86zM359.37 515.19H360.69V558.82H359.37zM385.75 515.19H387.06V558.82H385.75zM466.19 515.19H468.83V558.82H466.19zM520.26 515.19H521.58V558.82H520.26zM551.92 515.19H553.23V558.82H551.92zM554.55 515.19H555.87V558.82H554.55zM557.19 515.19H558.51V558.82H557.19zM574.33 515.19H575.65V558.82H574.33zM616.54 515.19H617.86V558.82H616.54zM70.55 558.82H71.87V602.45H70.55zM148.36 558.82H149.68V602.45H148.36zM174.74 558.82H176.06V602.45H174.74zM181.33 558.82H183.97V602.45H181.33zM220.89 558.82H222.21V602.45H220.89zM264.42 558.82H265.73V602.45H264.42zM280.24 558.82H281.56V602.45H280.24zM365.96 558.82H367.28V602.45H365.96zM534.77 558.82H536.09V602.45H534.77zM562.47 558.82H563.78V602.45H562.47zM584.89 558.82H586.20V602.45H584.89zM628.41 558.82H629.72V602.45H628.41zM74.51 602.45H75.83V646.08H74.51zM85.06 602.45H86.38V646.08H85.06zM115.39 602.45H116.71V646.08H115.39zM123.30 602.45H124.62V646.08H123.30zM228.81 602.45H230.13V646.08H228.81zM271.01 602.45H272.33V646.08H271.01zM274.97 602.45H276.28V646.08H274.97zM296.07 602.45H297.39V646.08H296.07zM301.34 602.45H303.98V646.08H301.34zM360.69 602.45H362.01V646.08H360.69zM372.56 602.45H373.88V646.08H372.56zM458.28 602.45H459.60V646.08H458.28zM460.92 602.45H462.24V646.08H460.92zM467.51 602.45H468.83V646.08H467.51zM509.71 602.45H511.03V646.08H509.71zM528.18 602.45H529.50V646.08H528.18zM544.00 602.45H545.32V646.08H544.00zM547.96 602.45H549.28V646.08H547.96zM571.70 602.45H573.02V646.08H571.70zM587.52 602.45H588.84V646.08H587.52zM595.44 602.45H596.75V646.08H595.44zM615.22 602.45H616.54V646.08H615.22zM625.77 602.45H627.09V646.08H625.77zM63.96 646.08H65.28V689.71H63.96zM114.07 646.08H115.39V689.71H114.07zM120.67 646.08H121.98V689.71H120.67zM152.32 646.08H153.64V689.71H152.32zM187.92 646.08H189.24V689.71H187.92zM220.89 646.08H222.21V689.71H220.89zM224.85 646.08H226.17V689.71H224.85zM239.36 646.08H240.68V689.71H239.36zM276.28 646.08H277.60V689.71H276.28zM379.15 646.08H380.47V689.71H379.15zM402.89 646.08H404.21V689.71H402.89zM470.15 646.08H471.47V689.71H470.15zM520.26 646.08H521.58V689.71H520.26zM541.36 646.08H542.68V689.71H541.36zM617.86 646.08H619.17V689.71H617.86zM624.45 646.08H625.77V689.71H624.45zM74.51 689.71H75.83V733.34H74.51zM82.42 689.71H83.74V733.34H82.42zM162.87 689.71H164.19V733.34H162.87zM194.52 689.71H195.84V733.34H194.52zM199.79 689.71H201.11V733.34H199.79zM256.50 689.71H257.82V733.34H256.50zM352.78 689.71H354.09V733.34H352.78zM356.73 689.71H358.05V733.34H356.73zM362.01 689.71H363.33V733.34H362.01zM409.48 689.71H412.12V733.34H409.48zM427.95 689.71H429.27V733.34H427.95zM441.14 689.71H442.45V733.34H441.14zM478.06 689.71H479.38V733.34H478.06zM500.48 689.71H501.80V733.34H500.48zM549.28 689.71H550.60V733.34H549.28zM595.44 689.71H596.75V733.34H595.44zM114.07 733.34H115.39V776.97H114.07zM149.68 733.34H151.00V776.97H149.68zM210.34 733.34H211.66V776.97H210.34zM336.95 733.34H338.27V776.97H336.95zM352.78 733.34H354.09V776.97H352.78zM368.60 733.34H369.92V776.97H368.60zM396.30 733.34H397.61V776.97H396.30zM410.80 733.34H412.12V776.97H410.80zM468.83 733.34H470.15V776.97H468.83zM509.71 733.34H511.03V776.97H509.71zM512.35 733.34H513.67V776.97H512.35zM571.70 733.34H573.02V776.97H571.70zM575.65 733.34H576.97V776.97H575.65zM592.80 733.34H594.12V776.97H592.80zM595.44 733.34H596.75V776.97H595.44zM123.30 776.97H124.62V820.60H123.30zM137.81 776.97H139.13V820.60H137.81zM158.91 776.97H160.23V820.60H158.91zM178.69 776.97H180.01V820.60H178.69zM193.20 776.97H194.52V820.60H193.20zM265.73 776.97H267.05V820.60H265.73zM301.34 776.97H302.66V820.60H301.34zM309.25 776.97H310.57V820.60H309.25zM339.59 776.97H342.22V820.60H339.59zM359.37 776.97H360.69V820.60H359.37zM377.83 776.97H379.15V820.60H377.83zM397.61 776.97H398.93V820.60H397.61zM406.85 776.97H408.17V820.60H406.85zM416.08 776.97H417.40V820.60H416.08zM488.61 776.97H489.93V820.60H488.61zM534.77 776.97H536.09V820.60H534.77zM629.72 776.97H631.04V820.60H629.72z"/>
<path fill="#9999ff" d="M67.91 384.30H69.23V427.93H67.91zM168.14 384.30H169.46V427.93H168.14zM170.78 384.30H172.10V427.93H170.78zM211.66 384.30H212.98V427.93H211.66zM286.83 384.30H288.15V427.93H286.83zM325.08 384.30H327.72V427.93H325.08zM331.67 384.30H334.31V427.93H331.67zM347.50 384.30H348.82V427.93H347.50zM355.41 384.30H356.73V427.93H355.41zM380.47 384.30H381.79V427.93H380.47zM393.66 384.30H394.98V427.93H393.66zM433.22 384.30H434.54V427.93H433.22zM446.41 384.30H447.73V427.93H446.41zM464.87 384.30H466.19V427.93H464.87zM472.79 384.30H474.11V427.93H472.79zM500.48 384.30H501.80V427.93H500.48zM511.03 384.30H512.35V427.93H511.03zM559.83 384.30H561.15V427.93H559.83zM565.10 384.30H567.74V427.93H565.10zM602.03 384.30H603.35V427.93H602.03zM616.54 384.30H617.86V427.93H616.54zM619.17 384.30H620.49V427.93H619.17zM129.90 427.93H132.53V471.56H129.90zM181.33 427.93H182.65V471.56H181.33zM238.04 427.93H239.36V471.56H238.04zM268.37 427.93H269.69V471.56H268.37zM285.52 427.93H286.83V471.56H285.52zM327.72 427.93H330.36V471.56H327.72zM339.59 427.93H340.91V471.56H339.59zM377.83 427.93H379.15V471.56H377.83zM401.57 427.93H402.89V471.56H401.57zM438.50 427.93H439.82V471.56H438.50zM520.26 427.93H521.58V471.56H520.26zM533.45 427.93H534.77V471.56H533.45zM578.29 427.93H579.61V471.56H578.29zM616.54 427.93H617.86V471.56H616.54zM176.06 471.56H177.37V515.19H176.06zM220.89 471.56H222.21V515.19H220.89zM223.53 471.56H224.85V515.19H223.53zM239.36 471.56H240.68V515.19H239.36zM255.18 471.56H256.50V515.19H255.18zM286.83 471.56H288.15V515.19H286.83zM301.34 471.56H302.66V515.19H301.34zM303.98 471.56H305.30V515.19H303.98zM325.08 471.56H326.40V515.19H325.08zM383.11 471.56H384.43V515.19H383.11zM387.06 471.56H388.38V515.19H387.06zM418.72 471.56H420.03V515.19H418.72zM464.87 471.56H466.19V515.19H464.87zM520.26 471.56H521.58V515.19H520.26zM567.74 471.56H569.06V515.19H567.74zM596.75 471.56H598.07V515.19H596.75zM632.36 471.56H635.00V515.19H632.36zM132.53 515.19H133.85V558.82H132.53zM169.46 515.19H170.78V558.82H169.46zM172.10 515.19H173.42V558.82H172.10zM178.69 515.19H180.01V558.82H178.69zM215.62 515.19H216.94V558.82H215.62zM360.69 515.19H362.01V558.82H360.69zM377.83 515.19H379.15V558.82H377.83zM405.53 515.19H406.85V558.82H405.53zM418.72 515.19H420.03V558.82H418.72zM421.35 515.19H422.67V558.82H421.35zM426.63 515.19H429.27V558.82H426.63zM455.64 515.19H456.96V558.82H455.64zM458.28 515.19H459.60V558.82H458.28zM478.06 515.19H479.38V558.82H478.06zM522.90 515.19H524.22V558.82H522.90zM545.32 515.19H546.64V558.82H545.32zM550.60 515.19H551.92V558.82H550.60zM553.23 515.19H554.55V558.82H553.23zM570.38 515.19H571.70V558.82H570.38zM590.16 515.19H591.48V558.82H590.16zM598.07 515.19H599.39V558.82H598.07zM609.94 515.19H611.26V558.82H609.94zM620.49 515.19H621.81V558.82H620.49zM632.36 515.19H633.68V558.82H632.36zM61.32 558.82H62.64V602.45H61.32zM75.83 558.82H77.14V602.45H75.83zM83.74 558.82H85.06V602.45H83.74zM219.58 558.82H220.89V602.45H219.58zM238.04 558.82H239.36V602.45H238.04zM394.98 558.82H396.30V602.45H394.98zM417.40 558.82H420.03V602.45H417.40zM430.58 558.82H431.90V602.45H430.58zM435.86 558.82H437.18V602.45H435.86zM443.77 558.82H445.09V602.45H443.77zM550.60 558.82H551.92V602.45H550.60zM604.67 558.82H605.99V602.45H604.67zM112.75 602.45H114.07V646.08H112.75zM132.53 602.45H133.85V646.08H132.53zM162.87 602.45H164.19V646.08H162.87zM224.85 602.45H226.17V646.08H224.85zM257.82 602.45H259.14V646.08H257.82zM331.67 602.45H332.99V646.08H331.67zM346.18 602.45H347.50V646.08H346.18zM388.38 602.45H389.70V646.08H388.38zM406.85 602.45H408.17V646.08H406.85zM414.76 602.45H416.08V646.08H414.76zM501.80 602.45H503.12V646.08H501.80zM551.92 602.45H553.23V646.08H551.92zM570.38 602.45H571.70V646.08H570.38zM79.78 646.08H81.10V689.71H79.78zM166.82 646.08H168.14V689.71H166.82zM227.49 646.08H228.81V689.71H227.49zM251.23 646.08H252.55V689.71H251.23zM256.50 646.08H257.82V689.71H256.50zM268.37 646.08H269.69V689.71H268.37zM306.62 646.08H307.94V689.71H306.62zM335.63 646.08H336.95V689.71H335.63zM355.41 646.08H356.73V689.71H355.41zM367.28 646.08H368.60V689.71H367.28zM391.02 646.08H392.34V689.71H391.02zM417.40 646.08H418.72V689.71H417.40zM421.35 646.08H422.67V689.71H421.35zM434.54 646.08H435.86V689.71H434.54zM455.64 646.08H456.96V689.71H455.64zM482.02 646.08H483.34V689.71H482.02zM484.66 646.08H485.97V689.71H484.66zM532.13 646.08H533.45V689.71H532.13zM538.73 646.08H540.05V689.71H538.73zM562.47 646.08H563.78V689.71H562.47zM571.70 646.08H574.33V689.71H571.70zM586.20 646.08H587.52V689.71H586.20zM70.55 689.71H71.87V733.34H70.55zM127.26 689.71H128.58V733.34H127.26zM227.49 689.71H228.81V733.34H227.49zM230.13 689.71H231.44V733.34H230.13zM252.55 689.71H253.86V733.34H252.55zM343.54 689.71H344.86V733.34H343.54zM347.50 689.71H348.82V733.34H347.50zM380.47 689.71H381.79V733.34H380.47zM388.38 689.71H389.70V733.34H388.38zM412.12 689.71H413.44V733.34H412.12zM426.63 689.71H427.95V733.34H426.63zM439.82 689.71H441.14V733.34H439.82zM484.66 689.71H485.97V733.34H484.66zM529.50 689.71H530.81V733.34H529.50zM573.02 689.71H574.33V733.34H573.02zM605.99 689.71H607.31V733.34H605.99zM127.26 733.34H128.58V776.97H127.26zM154.95 733.34H156.27V776.97H154.95zM187.92 733.34H189.24V776.97H187.92zM236.72 733.34H238.04V776.97H236.72zM239.36 733.34H240.68V776.97H239.36zM323.76 733.34H325.08V776.97H323.76zM380.47 733.34H381.79V776.97H380.47zM397.61 733.34H398.93V776.97H397.61zM422.67 733.34H423.99V776.97H422.67zM475.42 733.34H476.74V776.97H475.42zM499.16 733.34H500.48V776.97H499.16zM507.08 733.34H509.71V776.97H507.08zM586.20 733.34H587.52V776.97H586.20zM129.90 776.97H131.22V820.60H129.90zM173.42 776.97H174.74V820.60H173.42zM251.23 776.97H252.55V820.60H251.23zM260.46 776.97H261.78V820.60H260.46zM280.24 776.97H281.56V820.60H280.24zM290.79 776.97H292.11V820.60H290.79zM338.27 776.97H339.59V820.60H338.27zM348.82 776.97H350.14V820.60H348.82zM362.01 776.97H363.33V820.60H362.01zM369.92 776.97H372.56V820.60H369.92zM417.40 776.97H418.72V820.60H417.40zM433.22 776.97H434.54V820.60H433.22zM438.50 776.97H439.82V820.60H438.50zM451.69 776.97H453.00V820.60H451.69zM503.12 776.97H504.44V820.60H503.12zM586.20 776.97H587.52V820.60H586.20zM600.71 776.97H602.03V820.60H600.71zM632.36 776.97H633.68V820.60H632.36z"/>
<path fill="#ffe6e6" d="M71.87 384.30H74.51V427.93H71.87zM92.97 384.30H94.29V427.93H92.97zM108.80 384.30H110.11V427.93H108.80zM119.35 384.30H120.67V427.93H119.35zM169.46 384.30H170.78V427.93H169.46zM174.74 384.30H176.06V427.93H174.74zM263.10 384.30H264.42V427.93H263.10zM309.25 384.30H310.57V427.93H309.25zM348.82 384.30H350.14V427.93H348.82zM379.15 384.30H380.47V427.93H379.15zM422.67 384.30H425.31V427.93H422.67zM451.69 384.30H453.00V427.93H451.69zM603.35 384.30H604.67V427.93H603.35zM166.82 427.93H168.14V471.56H166.82zM174.74 427.93H176.06V471.56H174.74zM177.37 427.93H178.69V471.56H177.37zM183.97 427.93H185.29V471.56H183.97zM186.61 427.93H187.92V471.56H186.61zM202.43 427.93H205.07V471.56H202.43zM220.89 427.93H222.21V471.56H220.89zM260.46 427.93H261.78V471.56H260.46zM267.05 427.93H268.37V471.56H267.05zM281.56 427.93H282.88V471.56H281.56zM294.75 427.93H296.07V471.56H294.75zM306.62 427.93H307.94V471.56H306.62zM330.36 427.93H331.67V471.56H330.36zM344.86 427.93H346.18V471.56H344.86zM398.93 427.93H400.25V471.56H398.93zM458.28 427.93H459.60V471.56H458.28zM460.92 427.93H462.24V471.56H460.92zM570.38 427.93H571.70V471.56H570.38zM629.72 427.93H631.04V471.56H629.72zM114.07 471.56H115.39V515.19H114.07zM185.29 471.56H186.61V515.19H185.29zM189.24 471.56H190.56V515.19H189.24zM199.79 471.56H201.11V515.19H199.79zM298.70 471.56H300.02V515.19H298.70zM344.86 471.56H346.18V515.19H344.86zM348.82 471.56H350.14V515.19H348.82zM413.44 471.56H414.76V515.19H413.44zM422.67 471.56H423.99V515.19H422.67zM425.31 471.56H426.63V515.19H425.31zM501.80 471.56H503.12V515.19H501.80zM136.49 515.19H137.81V558.82H136.49zM153.64 515.19H156.27V558.82H153.64zM264.42 515.19H265.73V558.82H264.42zM274.97 515.19H276.28V558.82H274.97zM288.15 515.19H289.47V558.82H288.15zM301.34 515.19H302.66V558.82H301.34zM325.08 515.19H326.40V558.82H325.08zM352.78 515.19H354.09V558.82H352.78zM358.05 515.19H359.37V558.82H358.05zM373.88 515.19H375.19V558.82H373.88zM380.47 515.19H381.79V558.82H380.47zM388.38 515.19H389.70V558.82H388.38zM394.98 515.19H396.30V558.82H394.98zM397.61 515.19H400.25V558.82H397.61zM442.45 515.19H443.77V558.82H442.45zM567.74 515.19H569.06V558.82H567.74zM583.57 515.19H584.89V558.82H583.57zM591.48 515.19H592.80V558.82H591.48zM617.86 515.19H619.17V558.82H617.86zM137.81 558.82H139.13V602.45H137.81zM149.68 558.82H151.00V602.45H149.68zM156.27 558.82H157.59V602.45H156.27zM201.11 558.82H202.43V602.45H201.11zM211.66 558.82H212.98V602.45H211.66zM368.60 558.82H369.92V602.45H368.60zM376.51 558.82H377.83V602.45H376.51zM383.11 558.82H384.43V602.45H383.11zM393.66 558.82H394.98V602.45H393.66zM445.09 558.82H446.41V602.45H445.09zM456.96 558.82H458.28V602.45H456.96zM479.38 558.82H480.70V602.45H479.38zM511.03 558.82H512.35V602.45H511.03zM119.35 602.45H120.67V646.08H119.35zM153.64 602.45H154.95V646.08H153.64zM187.92 602.45H189.24V646.08H187.92zM199.79 602.45H201.11V646.08H199.79zM255.18 602.45H256.50V646.08H255.18zM289.47 602.45H290.79V646.08H289.47zM311.89 602.45H313.21V646.08H311.89zM323.76 602.45H325.08V646.08H323.76zM330.36 602.45H331.67V646.08H330.36zM344.86 602.45H346.18V646.08H344.86zM380.47 602.45H381.79V646.08H380.47zM468.83 602.45H470.15V646.08H468.83zM484.66 602.45H485.97V646.08H484.66zM549.28 602.45H551.92V646.08H549.28zM591.48 602.45H592.80V646.08H591.48zM127.26 646.08H128.58V689.71H127.26zM137.81 646.08H139.13V689.71H137.81zM189.24 646.08H190.56V689.71H189.24zM194.52 646.08H195.84V689.71H194.52zM292.11 646.08H293.43V689.71H292.11zM376.51 646.08H377.83V689.71H376.51zM413.44 646.08H417.40V689.71H413.44zM422.67 646.08H423.99V689.71H422.67zM441.14 646.08H442.45V689.71H441.14zM505.76 646.08H507.08V689.71H505.76zM544.00 646.08H545.32V689.71H544.00zM627.09 646.08H628.41V689.71H627.09zM91.65 689.71H92.97V733.34H91.65zM135.17 689.71H136.49V733.34H135.17zM181.33 689.71H183.97V733.34H181.33zM215.62 689.71H216.94V733.34H215.62zM261.78 689.71H264.42V733.34H261.78zM307.94 689.71H309.25V733.34H307.94zM335.63 689.71H336.95V733.34H335.63zM359.37 689.71H360.69V733.34H359.37zM422.67 689.71H423.99V733.34H422.67zM116.71 733.34H118.03V776.97H116.71zM152.32 733.34H153.64V776.97H152.32zM180.01 733.34H181.33V776.97H180.01zM205.07 733.34H206.39V776.97H205.07zM228.81 733.34H230.13V776.97H228.81zM244.63 733.34H245.95V776.97H244.63zM263.10 733.34H264.42V776.97H263.10zM269.69 733.34H271.01V776.97H269.69zM290.79 733.34H292.11V776.97H290.79zM294.75 733.34H296.07V776.97H294.75zM303.98 733.34H305.30V776.97H303.98zM330.36 733.34H331.67V776.97H330.36zM385.75 733.34H387.06V776.97H385.75zM394.98 733.34H396.30V776.97H394.98zM423.99 733.34H425.31V776.97H423.99zM437.18 733.34H438.50V776.97H437.18zM505.76 733.34H507.08V776.97H505.76zM563.78 733.34H565.10V776.97H563.78zM124.62 776.97H125.94V820.60H124.62zM177.37 776.97H178.69V820.60H177.37zM205.07 776.97H206.39V820.60H205.07zM232.76 776.97H234.08V820.60H232.76zM245.95 776.97H247.27V820.60H245.95zM278.92 776.97H280.24V820.60H278.92zM289.47 776.97H290.79V820.60H289.47zM317.17 776.97H318.49V820.60H317.17zM393.66 776.97H394.98V820.60H393.66zM420.03 776.97H421.35V820.60H420.03zM422.67 776.97H423.99V820.60H422.67zM489.93 776.97H491.25V820.60H489.93zM500.48 776.97H501.80V820.60H500.48zM544.00 776.97H545.32V820.60H544.00zM570.38 776.97H571.70V820.60H570.38zM608.62 776.97H609.94V820.60H608.62z"/>
<path fill="#ffb2b2" d="M75.83 384.30H77.14V427.93H75.83zM191.88 384.30H193.20V427.93H191.88zM271.01 384.30H272.33V427.93H271.01zM413.44 384.30H414.76V427.93H413.44zM417.40 384.30H418.72V427.93H417.40zM445.09 384.30H446.41V427.93H445.09zM479.38 384.30H480.70V427.93H479.38zM504.44 384.30H505.76V427.93H504.44zM514.99 384.30H516.31V427.93H514.99zM570.38 384.30H571.70V427.93H570.38zM592.80 384.30H594.12V427.93H592.80zM617.86 384.30H619.17V427.93H617.86zM628.41 384.30H629.72V427.93H628.41zM313.21 427.93H314.53V471.56H313.21zM362.01 427.93H363.33V471.56H362.01zM371.24 427.93H372.56V471.56H371.24zM476.74 427.93H478.06V471.56H476.74zM518.94 427.93H520.26V471.56H518.94zM549.28 427.93H550.60V471.56H549.28zM586.20 427.93H587.52V471.56H586.20zM620.49 427.93H621.81V471.56H620.49zM120.67 471.56H121.98V515.19H120.67zM135.17 471.56H136.49V515.19H135.17zM261.78 471.56H263.10V515.19H261.78zM293.43 471.56H294.75V515.19H293.43zM332.99 471.56H334.31V515.19H332.99zM371.24 471.56H372.56V515.19H371.24zM388.38 471.56H389.70V515.19H388.38zM471.47 471.56H472.79V515.19H471.47zM487.29 471.56H488.61V515.19H487.29zM546.64 471.56H547.96V515.19H546.64zM569.06 471.56H570.38V515.19H569.06zM87.69 515.19H89.01V558.82H87.69zM91.65 515.19H92.97V558.82H91.65zM143.08 515.19H144.40V558.82H143.08zM201.11 515.19H202.43V558.82H201.11zM227.49 515.19H228.81V558.82H227.49zM234.08 515.19H235.40V558.82H234.08zM240.68 515.19H243.31V558.82H240.68zM273.65 515.19H274.97V558.82H273.65zM303.98 515.19H305.30V558.82H303.98zM413.44 515.19H414.76V558.82H413.44zM451.69 515.19H453.00V558.82H451.69zM95.61 558.82H96.93V602.45H95.61zM129.90 558.82H131.22V602.45H129.90zM212.98 558.82H214.30V602.45H212.98zM218.26 558.82H219.58V602.45H218.26zM239.36 558.82H240.68V602.45H239.36zM325.08 558.82H326.40V602.45H325.08zM392.34 558.82H393.66V602.45H392.34zM396.30 558.82H397.61V602.45H396.30zM458.28 558.82H459.60V602.45H458.28zM460.92 558.82H462.24V602.45H460.92zM492.57 558.82H493.89V602.45H492.57zM533.45 558.82H534.77V602.45H533.45zM627.09 558.82H628.41V602.45H627.09zM149.68 602.45H151.00V646.08H149.68zM181.33 602.45H182.65V646.08H181.33zM282.88 602.45H284.20V646.08H282.88zM526.86 602.45H528.18V646.08H526.86zM578.29 602.45H580.93V646.08H578.29zM608.62 602.45H611.26V646.08H608.62zM165.50 646.08H166.82V689.71H165.50zM199.79 646.08H201.11V689.71H199.79zM218.26 646.08H219.58V689.71H218.26zM222.21 646.08H223.53V689.71H222.21zM303.98 646.08H305.30V689.71H303.98zM330.36 646.08H331.67V689.71H330.36zM371.24 646.08H372.56V689.71H371.24zM394.98 646.08H396.30V689.71H394.98zM442.45 646.08H443.77V689.71H442.45zM507.08 646.08H508.39V689.71H507.08zM550.60 646.08H551.92V689.71H550.60zM609.94 646.08H611.26V689.71H609.94zM616.54 646.08H617.86V689.71H616.54zM625.77 646.08H627.09V689.71H625.77zM112.75 689.71H114.07V733.34H112.75zM137.81 689.71H141.77V733.34H137.81zM170.78 689.71H172.10V733.34H170.78zM206.39 689.71H207.71V733.34H206.39zM226.17 689.71H227.49V733.34H226.17zM257.82 689.71H259.14V733.34H257.82zM406.85 689.71H408.17V733.34H406.85zM413.44 689.71H414.76V733.34H413.44zM451.69 689.71H453.00V733.34H451.69zM528.18 689.71H529.50V733.34H528.18zM133.85 733.34H135.17V776.97H133.85zM161.55 733.34H162.87V776.97H161.55zM165.50 733.34H166.82V776.97H165.50zM177.37 733.34H178.69V776.97H177.37zM182.65 733.34H183.97V776.97H182.65zM230.13 733.34H231.44V776.97H230.13zM248.59 733.34H249.91V776.97H248.59zM284.20 733.34H285.52V776.97H284.20zM292.11 733.34H293.43V776.97H292.11zM314.53 733.34H315.85V776.97H314.53zM321.12 733.34H322.44V776.97H321.12zM335.63 733.34H336.95V776.97H335.63zM343.54 733.34H344.86V776.97H343.54zM379.15 733.34H380.47V776.97H379.15zM383.11 733.34H384.43V776.97H383.11zM389.70 733.34H391.02V776.97H389.70zM409.48 733.34H410.80V776.97H409.48zM413.44 733.34H414.76V776.97H413.44zM447.73 733.34H449.05V776.97H447.73zM472.79 733.34H474.11V776.97H472.79zM493.89 733.34H495.21V776.97H493.89zM503.12 733.34H504.44V776.97H503.12zM603.35 733.34H604.67V776.97H603.35zM621.81 733.34H623.13V776.97H621.81zM121.98 776.97H123.30V820.60H121.98zM143.08 776.97H144.40V820.60H143.08zM170.78 776.97H173.42V820.60H170.78zM195.84 776.97H197.16V820.60H195.84zM203.75 776.97H205.07V820.60H203.75zM219.58 776.97H220.89V820.60H219.58zM224.85 776.97H226.17V820.60H224.85zM243.31 776.97H244.63V820.60H243.31zM315.85 776.97H317.17V820.60H315.85zM331.67 776.97H332.99V820.60H331.67zM421.35 776.97H422.67V820.60H421.35zM434.54 776.97H435.86V820.60H434.54zM450.37 776.97H451.69V820.60H450.37zM524.22 776.97H525.54V820.60H524.22zM578.29 776.97H579.61V820.60H578.29zM588.84 776.97H590.16V820.60H588.84zM598.07 776.97H599.39V820.60H598.07z"/>
<path fill="#ff9999" d="M77.14 384.30H78.46V427.93H77.14zM79.78 384.30H81.10V427.93H79.78zM125.94 384.30H127.26V427.93H125.94zM172.10 384.30H173.42V427.93H172.10zM536.09 384.30H537.41V427.93H536.09zM563.78 384.30H565.10V427.93H563.78zM571.70 384.30H573.02V427.93H571.70zM587.52 384.30H588.84V427.93H587.52zM590.16 384.30H591.48V427.93H590.16zM607.31 384.30H608.62V427.93H607.31zM120.67 427.93H121.98V471.56H120.67zM164.19 427.93H166.82V471.56H164.19zM249.91 427.93H251.23V471.56H249.91zM323.76 427.93H326.40V471.56H323.76zM351.46 427.93H352.78V471.56H351.46zM369.92 427.93H371.24V471.56H369.92zM405.53 427.93H406.85V471.56H405.53zM442.45 427.93H443.77V471.56H442.45zM561.15 427.93H562.47V471.56H561.15zM580.93 427.93H582.25V471.56H580.93zM132.53 471.56H133.85V515.19H132.53zM137.81 471.56H139.13V515.19H137.81zM205.07 471.56H206.39V515.19H205.07zM263.10 471.56H264.42V515.19H263.10zM350.14 471.56H351.46V515.19H350.14zM405.53 471.56H406.85V515.19H405.53zM496.53 471.56H497.84V515.19H496.53zM541.36 471.56H542.68V515.19H541.36zM544.00 471.56H545.32V515.19H544.00zM584.89 471.56H586.20V515.19H584.89zM628.41 471.56H629.72V515.19H628.41zM89.01 515.19H90.33V558.82H89.01zM151.00 515.19H152.32V558.82H151.00zM197.16 515.19H198.47V558.82H197.16zM243.31 515.19H244.63V558.82H243.31zM284.20 515.19H285.52V558.82H284.20zM290.79 515.19H292.11V558.82H290.79zM293.43 515.19H294.75V558.82H293.43zM323.76 515.19H325.08V558.82H323.76zM330.36 515.19H332.99V558.82H330.36zM362.01 515.19H363.33V558.82H362.01zM387.06 515.19H388.38V558.82H387.06zM422.67 515.19H423.99V558.82H422.67zM476.74 515.19H478.06V558.82H476.74zM482.02 515.19H483.34V558.82H482.02zM536.09 515.19H537.41V558.82H536.09zM571.70 515.19H573.02V558.82H571.70zM631.04 515.19H632.36V558.82H631.04zM71.87 558.82H74.51V602.45H71.87zM132.53 558.82H133.85V602.45H132.53zM151.00 558.82H152.32V602.45H151.00zM161.55 558.82H162.87V602.45H161.55zM199.79 558.82H201.11V602.45H199.79zM302.66 558.82H303.98V602.45H302.66zM450.37 558.82H451.69V602.45H450.37zM475.42 558.82H476.74V602.45H475.42zM576.97 558.82H578.29V602.45H576.97zM605.99 558.82H607.31V602.45H605.99zM629.72 558.82H631.04V602.45H629.72zM632.36 558.82H633.68V602.45H632.36zM121.98 602.45H123.30V646.08H121.98zM151.00 602.45H152.32V646.08H151.00zM207.71 602.45H209.03V646.08H207.71zM244.63 602.45H245.95V646.08H244.63zM268.37 602.45H269.69V646.08H268.37zM281.56 602.45H282.88V646.08H281.56zM290.79 602.45H292.11V646.08H290.79zM326.40 602.45H327.72V646.08H326.40zM394.98 602.45H396.30V646.08H394.98zM422.67 602.45H423.99V646.08H422.67zM475.42 602.45H476.74V646.08H475.42zM507.08 602.45H508.39V646.08H507.08zM538.73 602.45H540.05V646.08H538.73zM89.01 646.08H90.33V689.71H89.01zM121.98 646.08H123.30V689.71H121.98zM195.84 646.08H197.16V689.71H195.84zM293.43 646.08H294.75V689.71H293.43zM307.94 646.08H309.25V689.71H307.94zM331.67 646.08H332.99V689.71H331.67zM384.43 646.08H385.75V689.71H384.43zM426.63 646.08H427.95V689.71H426.63zM464.87 646.08H466.19V689.71H464.87zM551.92 646.08H553.23V689.71H551.92zM579.61 646.08H580.93V689.71H579.61zM595.44 646.08H596.75V689.71H595.44zM613.90 646.08H615.22V689.71H613.90zM623.13 646.08H624.45V689.71H623.13zM71.87 689.71H73.19V733.34H71.87zM90.33 689.71H91.65V733.34H90.33zM169.46 689.71H170.78V733.34H169.46zM198.47 689.71H199.79V733.34H198.47zM203.75 689.71H205.07V733.34H203.75zM294.75 689.71H296.07V733.34H294.75zM311.89 689.71H313.21V733.34H311.89zM314.53 689.71H315.85V733.34H314.53zM392.34 689.71H393.66V733.34H392.34zM401.57 689.71H402.89V733.34H401.57zM408.17 689.71H409.48V733.34H408.17zM505.76 689.71H507.08V733.34H505.76zM508.39 689.71H509.71V733.34H508.39zM525.54 689.71H526.86V733.34H525.54zM546.64 689.71H547.96V733.34H546.64zM579.61 689.71H580.93V733.34H579.61zM624.45 689.71H625.77V733.34H624.45zM174.74 733.34H176.06V776.97H174.74zM194.52 733.34H195.84V776.97H194.52zM197.16 733.34H198.47V776.97H197.16zM219.58 733.34H220.89V776.97H219.58zM245.95 733.34H247.27V776.97H245.95zM264.42 733.34H267.05V776.97H264.42zM340.91 733.34H342.22V776.97H340.91zM356.73 733.34H358.05V776.97H356.73zM393.66 733.34H394.98V776.97H393.66zM484.66 733.34H485.97V776.97H484.66zM495.21 733.34H496.53V776.97H495.21zM574.33 733.34H575.65V776.97H574.33zM631.04 733.34H632.36V776.97H631.04zM74.51 776.97H75.83V820.60H74.51zM136.49 776.97H137.81V820.60H136.49zM174.74 776.97H177.37V820.60H174.74zM211.66 776.97H212.98V820.60H211.66zM268.37 776.97H269.69V820.60H268.37zM288.15 776.97H289.47V820.60H288.15zM347.50 776.97H348.82V820.60H347.50zM355.41 776.97H356.73V820.60H355.41zM410.80 776.97H412.12V820.60H410.80zM425.31 776.97H427.95V820.60H425.31zM472.79 776.97H474.11V820.60H472.79zM479.38 776.97H480.70V820.60H479.38zM487.29 776.97H488.61V820.60H487.29zM529.50 776.97H530.81V820.60H529.50zM533.45 776.97H534.77V820.60H533.45zM624.45 776.97H625.77V820.60H624.45z"/>
<path fill="#ffcccc" d="M78.46 384.30H79.78V427.93H78.46zM83.74 384.30H85.06V427.93H83.74zM95.61 384.30H96.93V427.93H95.61zM106.16 384.30H108.80V427.93H106.16zM195.84 384.30H197.16V427.93H195.84zM218.26 384.30H219.58V427.93H218.26zM346.18 384.30H347.50V427.93H346.18zM406.85 384.30H408.17V427.93H406.85zM427.95 384.30H429.27V427.93H427.95zM471.47 384.30H472.79V427.93H471.47zM497.84 384.30H499.16V427.93H497.84zM542.68 384.30H544.00V427.93H542.68zM553.23 384.30H554.55V427.93H553.23zM624.45 384.30H625.77V427.93H624.45zM123.30 427.93H124.62V471.56H123.30zM257.82 427.93H259.14V471.56H257.82zM359.37 427.93H360.69V471.56H359.37zM423.99 427.93H425.31V471.56H423.99zM470.15 427.93H471.47V471.56H470.15zM508.39 427.93H509.71V471.56H508.39zM526.86 427.93H528.18V471.56H526.86zM582.25 427.93H583.57V471.56H582.25zM604.67 427.93H605.99V471.56H604.67zM617.86 427.93H619.17V471.56H617.86zM187.92 471.56H189.24V515.19H187.92zM201.11 471.56H202.43V515.19H201.11zM222.21 471.56H223.53V515.19H222.21zM236.72 471.56H238.04V515.19H236.72zM297.39 471.56H298.70V515.19H297.39zM343.54 471.56H344.86V515.19H343.54zM385.75 471.56H387.06V515.19H385.75zM394.98 471.56H396.30V515.19H394.98zM426.63 471.56H427.95V515.19H426.63zM488.61 471.56H489.93V515.19H488.61zM141.77 515.19H143.08V558.82H141.77zM166.82 515.19H168.14V558.82H166.82zM212.98 515.19H214.30V558.82H212.98zM265.73 515.19H267.05V558.82H265.73zM285.52 515.19H286.83V558.82H285.52zM363.33 515.19H364.64V558.82H363.33zM368.60 515.19H369.92V558.82H368.60zM383.11 515.19H384.43V558.82H383.11zM392.34 515.19H393.66V558.82H392.34zM475.42 515.19H476.74V558.82H475.42zM619.17 515.19H620.49V558.82H619.17zM240.68 558.82H242.00V602.45H240.68zM245.95 558.82H247.27V602.45H245.95zM268.37 558.82H269.69V602.45H268.37zM271.01 558.82H272.33V602.45H271.01zM305.30 558.82H306.62V602.45H305.30zM327.72 558.82H329.04V602.45H327.72zM388.38 558.82H389.70V602.45H388.38zM397.61 558.82H398.93V602.45H397.61zM446.41 558.82H447.73V602.45H446.41zM471.47 558.82H472.79V602.45H471.47zM476.74 558.82H479.38V602.45H476.74zM574.33 558.82H575.65V602.45H574.33zM91.65 602.45H92.97V646.08H91.65zM158.91 602.45H160.23V646.08H158.91zM193.20 602.45H194.52V646.08H193.20zM222.21 602.45H223.53V646.08H222.21zM376.51 602.45H379.15V646.08H376.51zM383.11 602.45H384.43V646.08H383.11zM409.48 602.45H410.80V646.08H409.48zM441.14 602.45H442.45V646.08H441.14zM459.60 602.45H460.92V646.08H459.60zM489.93 602.45H491.25V646.08H489.93zM516.31 602.45H517.63V646.08H516.31zM525.54 602.45H526.86V646.08H525.54zM621.81 602.45H623.13V646.08H621.81zM74.51 646.08H75.83V689.71H74.51zM172.10 646.08H173.42V689.71H172.10zM182.65 646.08H183.97V689.71H182.65zM193.20 646.08H194.52V689.71H193.20zM202.43 646.08H203.75V689.71H202.43zM223.53 646.08H224.85V689.71H223.53zM226.17 646.08H227.49V689.71H226.17zM259.14 646.08H260.46V689.71H259.14zM263.10 646.08H264.42V689.71H263.10zM288.15 646.08H289.47V689.71H288.15zM314.53 646.08H315.85V689.71H314.53zM418.72 646.08H420.03V689.71H418.72zM615.22 646.08H616.54V689.71H615.22zM119.35 689.71H120.67V733.34H119.35zM214.30 689.71H215.62V733.34H214.30zM240.68 689.71H242.00V733.34H240.68zM251.23 689.71H252.55V733.34H251.23zM313.21 689.71H314.53V733.34H313.21zM360.69 689.71H362.01V733.34H360.69zM376.51 689.71H377.83V733.34H376.51zM437.18 689.71H438.50V733.34H437.18zM507.08 689.71H508.39V733.34H507.08zM530.81 689.71H532.13V733.34H530.81zM537.41 689.71H538.73V733.34H537.41zM153.64 733.34H154.95V776.97H153.64zM222.21 733.34H223.53V776.97H222.21zM259.14 733.34H260.46V776.97H259.14zM271.01 733.34H272.33V776.97H271.01zM276.28 733.34H277.60V776.97H276.28zM392.34 733.34H393.66V776.97H392.34zM427.95 733.34H429.27V776.97H427.95zM446.41 733.34H447.73V776.97H446.41zM471.47 733.34H472.79V776.97H471.47zM526.86 733.34H528.18V776.97H526.86zM551.92 733.34H553.23V776.97H551.92zM573.02 733.34H574.33V776.97H573.02zM600.71 733.34H602.03V776.97H600.71zM604.67 733.34H605.99V776.97H604.67zM611.26 733.34H612.58V776.97H611.26zM145.72 776.97H147.04V820.60H145.72zM186.61 776.97H187.92V820.60H186.61zM198.47 776.97H199.79V820.60H198.47zM202.43 776.97H203.75V820.60H202.43zM231.44 776.97H232.76V820.60H231.44zM234.08 776.97H235.40V820.60H234.08zM267.05 776.97H268.37V820.60H267.05zM277.60 776.97H278.92V820.60H277.60zM367.28 776.97H368.60V820.60H367.28zM459.60 776.97H460.92V820.60H459.60zM522.90 776.97H524.22V820.60H522.90zM546.64 776.97H547.96V820.60H546.64zM575.65 776.97H576.97V820.60H575.65z"/>
<path fill="#ff4d4d" d="M85.06 384.30H86.38V427.93H85.06zM96.93 384.30H98.25V427.93H96.93zM224.85 384.30H226.17V427.93H224.85zM421.35 384.30H422.67V427.93H421.35zM426.63 384.30H427.95V427.93H426.63zM588.84 384.30H590.16V427.93H588.84zM144.40 427.93H145.72V471.56H144.40zM191.88 427.93H193.20V471.56H191.88zM214.30 427.93H215.62V471.56H214.30zM252.55 427.93H253.86V471.56H252.55zM309.25 427.93H310.57V471.56H309.25zM343.54 427.93H344.86V471.56H343.54zM346.18 427.93H347.50V471.56H346.18zM400.25 427.93H401.57V471.56H400.25zM427.95 427.93H429.27V471.56H427.95zM447.73 427.93H449.05V471.56H447.73zM500.48 427.93H501.80V471.56H500.48zM538.73 427.93H540.05V471.56H538.73zM554.55 427.93H555.87V471.56H554.55zM558.51 427.93H559.83V471.56H558.51zM573.02 427.93H574.33V471.56H573.02zM125.94 471.56H127.26V515.19H125.94zM482.02 471.56H483.34V515.19H482.02zM497.84 471.56H499.16V515.19H497.84zM565.10 471.56H566.42V515.19H565.10zM598.07 471.56H599.39V515.19H598.07zM164.19 515.19H165.50V558.82H164.19zM371.24 515.19H372.56V558.82H371.24zM408.17 515.19H409.48V558.82H408.17zM499.16 515.19H500.48V558.82H499.16zM508.39 515.19H509.71V558.82H508.39zM516.31 515.19H517.63V558.82H516.31zM547.96 515.19H550.60V558.82H547.96zM578.29 515.19H579.61V558.82H578.29zM276.28 558.82H277.60V602.45H276.28zM284.20 558.82H285.52V602.45H284.20zM379.15 558.82H380.47V602.45H379.15zM408.17 558.82H409.48V602.45H408.17zM521.58 558.82H522.90V602.45H521.58zM551.92 558.82H553.23V602.45H551.92zM148.36 602.45H149.68V646.08H148.36zM180.01 602.45H181.33V646.08H180.01zM203.75 602.45H205.07V646.08H203.75zM214.30 602.45H215.62V646.08H214.30zM292.11 602.45H293.43V646.08H292.11zM362.01 602.45H363.33V646.08H362.01zM381.79 602.45H383.11V646.08H381.79zM557.19 602.45H558.51V646.08H557.19zM631.04 602.45H632.36V646.08H631.04zM216.94 646.08H218.26V689.71H216.94zM284.20 646.08H285.52V689.71H284.20zM373.88 646.08H375.19V689.71H373.88zM404.21 646.08H405.53V689.71H404.21zM514.99 646.08H516.31V689.71H514.99zM526.86 646.08H528.18V689.71H526.86zM563.78 646.08H565.10V689.71H563.78zM118.03 689.71H119.35V733.34H118.03zM131.22 689.71H132.53V733.34H131.22zM244.63 689.71H245.95V733.34H244.63zM367.28 689.71H368.60V733.34H367.28zM433.22 689.71H434.54V733.34H433.22zM460.92 689.71H463.56V733.34H460.92zM474.11 689.71H475.42V733.34H474.11zM524.22 689.71H525.54V733.34H524.22zM534.77 689.71H536.09V733.34H534.77zM565.10 689.71H566.42V733.34H565.10zM594.12 689.71H595.44V733.34H594.12zM119.35 733.34H120.67V776.97H119.35zM141.77 733.34H143.08V776.97H141.77zM256.50 733.34H257.82V776.97H256.50zM281.56 733.34H282.88V776.97H281.56zM285.52 733.34H286.83V776.97H285.52zM310.57 733.34H311.89V776.97H310.57zM346.18 733.34H347.50V776.97H346.18zM377.83 733.34H379.15V776.97H377.83zM511.03 733.34H512.35V776.97H511.03zM528.18 733.34H530.81V776.97H528.18zM541.36 733.34H542.68V776.97H541.36zM116.71 776.97H118.03V820.60H116.71zM120.67 776.97H121.98V820.60H120.67zM227.49 776.97H228.81V820.60H227.49zM253.86 776.97H255.18V820.60H253.86zM285.52 776.97H286.83V820.60H285.52zM318.49 776.97H319.81V820.60H318.49zM344.86 776.97H346.18V820.60H344.86zM462.24 776.97H463.56V820.60H462.24zM491.25 776.97H492.57V820.60H491.25zM497.84 776.97H499.16V820.60H497.84zM562.47 776.97H563.78V820.60H562.47zM580.93 776.97H582.25V820.60H580.93zM616.54 776.97H617.86V820.60H616.54z"/>
<path fill="#ff8080" d="M86.38 384.30H87.69V427.93H86.38zM197.16 384.30H198.47V427.93H197.16zM206.39 384.30H207.71V427.93H206.39zM269.69 384.30H271.01V427.93H269.69zM489.93 384.30H491.25V427.93H489.93zM525.54 384.30H526.86V427.93H525.54zM115.39 427.93H116.71V471.56H115.39zM211.66 427.93H212.98V471.56H211.66zM242.00 427.93H243.31V471.56H242.00zM271.01 427.93H272.33V471.56H271.01zM367.28 427.93H369.92V471.56H367.28zM375.19 427.93H376.51V471.56H375.19zM449.05 427.93H450.37V471.56H449.05zM463.56 427.93H464.87V471.56H463.56zM513.67 427.93H514.99V471.56H513.67zM528.18 427.93H529.50V471.56H528.18zM547.96 427.93H549.28V471.56H547.96zM563.78 427.93H565.10V471.56H563.78zM605.99 427.93H607.31V471.56H605.99zM151.00 471.56H152.32V515.19H151.00zM169.46 471.56H170.78V515.19H169.46zM182.65 471.56H183.97V515.19H182.65zM331.67 471.56H332.99V515.19H331.67zM377.83 471.56H379.15V515.19H377.83zM445.09 471.56H446.41V515.19H445.09zM518.94 471.56H520.26V515.19H518.94zM550.60 471.56H551.92V515.19H550.60zM115.39 515.19H116.71V558.82H115.39zM165.50 515.19H166.82V558.82H165.50zM214.30 515.19H215.62V558.82H214.30zM235.40 515.19H236.72V558.82H235.40zM372.56 515.19H373.88V558.82H372.56zM445.09 515.19H446.41V558.82H445.09zM483.34 515.19H484.66V558.82H483.34zM565.10 515.19H566.42V558.82H565.10zM569.06 515.19H570.38V558.82H569.06zM139.13 558.82H140.45V602.45H139.13zM154.95 558.82H156.27V602.45H154.95zM162.87 558.82H164.19V602.45H162.87zM190.56 558.82H191.88V602.45H190.56zM296.07 558.82H297.39V602.45H296.07zM462.24 558.82H463.56V602.45H462.24zM470.15 558.82H471.47V602.45H470.15zM484.66 558.82H485.97V602.45H484.66zM504.44 558.82H505.76V602.45H504.44zM558.51 558.82H561.15V602.45H558.51zM94.29 602.45H95.61V646.08H94.29zM118.03 602.45H119.35V646.08H118.03zM129.90 602.45H131.22V646.08H129.90zM135.17 602.45H136.49V646.08H135.17zM174.74 602.45H176.06V646.08H174.74zM215.62 602.45H216.94V646.08H215.62zM325.08 602.45H326.40V646.08H325.08zM420.03 602.45H421.35V646.08H420.03zM504.44 602.45H505.76V646.08H504.44zM611.26 602.45H612.58V646.08H611.26zM139.13 646.08H140.45V689.71H139.13zM156.27 646.08H157.59V689.71H156.27zM173.42 646.08H174.74V689.71H173.42zM282.88 646.08H284.20V689.71H282.88zM423.99 646.08H425.31V689.71H423.99zM537.41 646.08H538.73V689.71H537.41zM611.26 646.08H612.58V689.71H611.26zM628.41 646.08H629.72V689.71H628.41zM83.74 689.71H85.06V733.34H83.74zM116.71 689.71H118.03V733.34H116.71zM136.49 689.71H137.81V733.34H136.49zM172.10 689.71H173.42V733.34H172.10zM292.11 689.71H293.43V733.34H292.11zM417.40 689.71H418.72V733.34H417.40zM442.45 689.71H443.77V733.34H442.45zM509.71 689.71H511.03V733.34H509.71zM582.25 689.71H583.57V733.34H582.25zM123.30 733.34H124.62V776.97H123.30zM223.53 733.34H226.17V776.97H223.53zM267.05 733.34H269.69V776.97H267.05zM331.67 733.34H332.99V776.97H331.67zM388.38 733.34H389.70V776.97H388.38zM408.17 733.34H409.48V776.97H408.17zM426.63 733.34H427.95V776.97H426.63zM546.64 733.34H547.96V776.97H546.64zM566.42 733.34H567.74V776.97H566.42zM582.25 733.34H583.57V776.97H582.25zM612.58 733.34H613.90V776.97H612.58zM620.49 733.34H621.81V776.97H620.49zM144.40 776.97H145.72V820.60H144.40zM161.55 776.97H162.87V820.60H161.55zM216.94 776.97H218.26V820.60H216.94zM300.02 776.97H301.34V820.60H300.02zM336.95 776.97H338.27V820.60H336.95zM346.18 776.97H347.50V820.60H346.18zM372.56 776.97H373.88V820.60H372.56zM384.43 776.97H385.75V820.60H384.43zM449.05 776.97H450.37V820.60H449.05zM456.96 776.97H458.28V820.60H456.96zM520.26 776.97H521.58V820.60H520.26zM557.19 776.97H558.51V820.60H557.19zM561.15 776.97H562.47V820.60H561.15zM582.25 776.97H583.57V820.60H582.25zM621.81 776.97H623.13V820.60H621.81z"/>
<path fill="#ff1919" d="M91.65 384.30H92.97V427.93H91.65zM298.70 384.30H300.02V427.93H298.70zM314.53 384.30H315.85V427.93H314.53zM392.34 384.30H393.66V427.93H392.34zM412.12 384.30H413.44V427.93H412.12zM443.77 384.30H445.09V427.93H443.77zM455.64 384.30H456.96V427.93H455.64zM467.51 384.30H470.15V427.93H467.51zM483.34 384.30H484.66V427.93H483.34zM147.04 427.93H148.36V471.56H147.04zM209.03 427.93H210.34V471.56H209.03zM148.36 471.56H149.68V515.19H148.36zM257.82 471.56H259.14V515.19H257.82zM391.02 471.56H392.34V515.19H391.02zM443.77 471.56H445.09V515.19H443.77zM586.20 471.56H587.52V515.19H586.20zM70.55 515.19H71.87V558.82H70.55zM335.63 515.19H336.95V558.82H335.63zM379.15 515.19H380.47V558.82H379.15zM423.99 515.19H425.31V558.82H423.99zM203.75 558.82H205.07V602.45H203.75zM234.08 558.82H235.40V602.45H234.08zM261.78 558.82H263.10V602.45H261.78zM290.79 558.82H292.11V602.45H290.79zM293.43 558.82H294.75V602.45H293.43zM315.85 558.82H317.17V602.45H315.85zM332.99 558.82H334.31V602.45H332.99zM409.48 558.82H410.80V602.45H409.48zM429.27 558.82H430.58V602.45H429.27zM557.19 558.82H558.51V602.45H557.19zM599.39 558.82H600.71V602.45H599.39zM609.94 558.82H611.26V602.45H609.94zM137.81 602.45H139.13V646.08H137.81zM173.42 602.45H174.74V646.08H173.42zM216.94 602.45H218.26V646.08H216.94zM227.49 602.45H228.81V646.08H227.49zM236.72 602.45H239.36V646.08H236.72zM249.91 602.45H251.23V646.08H249.91zM307.94 602.45H309.25V646.08H307.94zM385.75 602.45H387.06V646.08H385.75zM491.25 602.45H492.57V646.08H491.25zM493.89 602.45H495.21V646.08H493.89zM529.50 602.45H530.81V646.08H529.50zM541.36 602.45H542.68V646.08H541.36zM140.45 646.08H141.77V689.71H140.45zM210.34 646.08H211.66V689.71H210.34zM215.62 646.08H216.94V689.71H215.62zM340.91 646.08H342.22V689.71H340.91zM352.78 646.08H354.09V689.71H352.78zM358.05 646.08H359.37V689.71H358.05zM360.69 646.08H362.01V689.71H360.69zM524.22 646.08H525.54V689.71H524.22zM534.77 646.08H536.09V689.71H534.77zM546.64 646.08H547.96V689.71H546.64zM602.03 646.08H603.35V689.71H602.03zM629.72 646.08H631.04V689.71H629.72zM149.68 689.71H151.00V733.34H149.68zM189.24 689.71H190.56V733.34H189.24zM268.37 689.71H269.69V733.34H268.37zM278.92 689.71H280.24V733.34H278.92zM327.72 689.71H329.04V733.34H327.72zM385.75 689.71H387.06V733.34H385.75zM454.32 689.71H455.64V733.34H454.32zM475.42 689.71H476.74V733.34H475.42zM501.80 689.71H503.12V733.34H501.80zM551.92 689.71H553.23V733.34H551.92zM592.80 689.71H594.12V733.34H592.80zM121.98 733.34H123.30V776.97H121.98zM143.08 733.34H144.40V776.97H143.08zM158.91 733.34H160.23V776.97H158.91zM215.62 733.34H216.94V776.97H215.62zM235.40 733.34H236.72V776.97H235.40zM260.46 733.34H261.78V776.97H260.46zM289.47 733.34H290.79V776.97H289.47zM332.99 733.34H334.31V776.97H332.99zM354.09 733.34H355.41V776.97H354.09zM362.01 733.34H363.33V776.97H362.01zM372.56 733.34H373.88V776.97H372.56zM438.50 733.34H439.82V776.97H438.50zM458.28 733.34H459.60V776.97H458.28zM478.06 733.34H479.38V776.97H478.06zM542.68 733.34H544.00V776.97H542.68zM166.82 776.97H168.14V820.60H166.82zM286.83 776.97H288.15V820.60H286.83zM292.11 776.97H293.43V820.60H292.11zM310.57 776.97H311.89V820.60H310.57zM326.40 776.97H327.72V820.60H326.40zM453.00 776.97H454.32V820.60H453.00zM460.92 776.97H462.24V820.60H460.92zM504.44 776.97H505.76V820.60H504.44zM521.58 776.97H522.90V820.60H521.58zM563.78 776.97H565.10V820.60H563.78zM566.42 776.97H567.74V820.60H566.42zM594.12 776.97H595.44V820.60H594.12z"/>
<path fill="#ffffff" d="M94.29 384.30H95.61V427.93H94.29zM100.88 384.30H102.20V427.93H100.88zM161.55 384.30H164.19V427.93H161.55zM193.20 384.30H194.52V427.93H193.20zM212.98 384.30H214.30V427.93H212.98zM216.94 384.30H218.26V427.93H216.94zM251.23 384.30H252.55V427.93H251.23zM360.69 384.30H362.01V427.93H360.69zM389.70 384.30H391.02V427.93H389.70zM410.80 384.30H412.12V427.93H410.80zM425.31 384.30H426.63V427.93H425.31zM499.16 384.30H500.48V427.93H499.16zM505.76 384.30H507.08V427.93H505.76zM114.07 427.93H115.39V471.56H114.07zM296.07 427.93H297.39V471.56H296.07zM385.75 427.93H387.06V471.56H385.75zM439.82 427.93H441.14V471.56H439.82zM475.42 427.93H476.74V471.56H475.42zM484.66 427.93H485.97V471.56H484.66zM504.44 427.93H505.76V471.56H504.44zM559.83 427.93H561.15V471.56H559.83zM571.70 427.93H573.02V471.56H571.70zM144.40 471.56H145.72V515.19H144.40zM198.47 471.56H199.79V515.19H198.47zM203.75 471.56H205.07V515.19H203.75zM211.66 471.56H212.98V515.19H211.66zM214.30 471.56H215.62V515.19H214.30zM327.72 471.56H329.04V515.19H327.72zM397.61 471.56H398.93V515.19H397.61zM434.54 471.56H435.86V515.19H434.54zM499.16 471.56H500.48V515.19H499.16zM558.51 471.56H559.83V515.19H558.51zM613.90 471.56H615.22V515.19H613.90zM629.72 471.56H631.04V515.19H629.72zM120.67 515.19H121.98V558.82H120.67zM156.27 515.19H157.59V558.82H156.27zM182.65 515.19H183.97V558.82H182.65zM193.20 515.19H194.52V558.82H193.20zM198.47 515.19H201.11V558.82H198.47zM260.46 515.19H261.78V558.82H260.46zM286.83 515.19H288.15V558.82H286.83zM292.11 515.19H293.43V558.82H292.11zM294.75 515.19H296.07V558.82H294.75zM326.40 515.19H327.72V558.82H326.40zM376.51 515.19H377.83V558.82H376.51zM396.30 515.19H397.61V558.82H396.30zM507.08 515.19H508.39V558.82H507.08zM521.58 515.19H522.90V558.82H521.58zM525.54 515.19H526.86V558.82H525.54zM559.83 515.19H561.15V558.82H559.83zM580.93 515.19H582.25V558.82H580.93zM603.35 515.19H604.67V558.82H603.35zM60.00 558.82H61.32V602.45H60.00zM66.59 558.82H67.91V602.45H66.59zM166.82 558.82H168.14V602.45H166.82zM198.47 558.82H199.79V602.45H198.47zM206.39 558.82H207.71V602.45H206.39zM216.94 558.82H218.26V602.45H216.94zM227.49 558.82H228.81V602.45H227.49zM300.02 558.82H301.34V602.45H300.02zM303.98 558.82H305.30V602.45H303.98zM387.06 558.82H388.38V602.45H387.06zM398.93 558.82H400.25V602.45H398.93zM437.18 558.82H438.50V602.45H437.18zM517.63 558.82H518.94V602.45H517.63zM128.58 602.45H129.90V646.08H128.58zM189.24 602.45H190.56V646.08H189.24zM205.07 602.45H206.39V646.08H205.07zM231.44 602.45H232.76V646.08H231.44zM248.59 602.45H249.91V646.08H248.59zM252.55 602.45H253.86V646.08H252.55zM294.75 602.45H296.07V646.08H294.75zM474.11 602.45H475.42V646.08H474.11zM495.21 602.45H496.53V646.08H495.21zM524.22 602.45H525.54V646.08H524.22zM563.78 602.45H565.10V646.08H563.78zM569.06 602.45H570.38V646.08H569.06zM605.99 602.45H607.31V646.08H605.99zM629.72 602.45H631.04V646.08H629.72zM201.11 646.08H202.43V689.71H201.11zM289.47 646.08H290.79V689.71H289.47zM608.62 646.08H609.94V689.71H608.62zM612.58 646.08H613.90V689.71H612.58zM79.78 689.71H81.10V733.34H79.78zM125.94 689.71H127.26V733.34H125.94zM165.50 689.71H166.82V733.34H165.50zM249.91 689.71H251.23V733.34H249.91zM264.42 689.71H265.73V733.34H264.42zM330.36 689.71H331.67V733.34H330.36zM342.22 689.71H343.54V733.34H342.22zM351.46 689.71H352.78V733.34H351.46zM368.60 689.71H369.92V733.34H368.60zM371.24 689.71H372.56V733.34H371.24zM384.43 689.71H385.75V733.34H384.43zM400.25 689.71H401.57V733.34H400.25zM414.76 689.71H416.08V733.34H414.76zM429.27 689.71H430.58V733.34H429.27zM446.41 689.71H447.73V733.34H446.41zM450.37 689.71H451.69V733.34H450.37zM471.47 689.71H472.79V733.34H471.47zM483.34 689.71H484.66V733.34H483.34zM492.57 689.71H493.89V733.34H492.57zM522.90 689.71H524.22V733.34H522.90zM561.15 689.71H562.47V733.34H561.15zM566.42 689.71H567.74V733.34H566.42zM599.39 689.71H600.71V733.34H599.39zM108.80 733.34H110.11V776.97H108.80zM144.40 733.34H145.72V776.97H144.40zM185.29 733.34H186.61V776.97H185.29zM220.89 733.34H222.21V776.97H220.89zM247.27 733.34H248.59V776.97H247.27zM255.18 733.34H256.50V776.97H255.18zM277.60 733.34H278.92V776.97H277.60zM280.24 733.34H281.56V776.97H280.24zM302.66 733.34H303.98V776.97H302.66zM344.86 733.34H346.18V776.97H344.86zM350.14 733.34H351.46V776.97H350.14zM358.05 733.34H359.37V776.97H358.05zM443.77 733.34H445.09V776.97H443.77zM488.61 733.34H489.93V776.97H488.61zM553.23 733.34H554.55V776.97H553.23zM587.52 733.34H588.84V776.97H587.52zM115.39 776.97H116.71V820.60H115.39zM162.87 776.97H164.19V820.60H162.87zM169.46 776.97H170.78V820.60H169.46zM187.92 776.97H189.24V820.60H187.92zM197.16 776.97H198.47V820.60H197.16zM222.21 776.97H223.53V820.60H222.21zM235.40 776.97H236.72V820.60H235.40zM368.60 776.97H369.92V820.60H368.60zM379.15 776.97H380.47V820.60H379.15zM394.98 776.97H396.30V820.60H394.98zM435.86 776.97H437.18V820.60H435.86zM511.03 776.97H512.35V820.60H511.03zM569.06 776.97H570.38V820.60H569.06zM619.17 776.97H620.49V820.60H619.17zM631.04 776.97H632.36V820.60H631.04z"/>
<path fill="#0000ff" d="M99.56 384.30H100.88V427.93H99.56zM115.39 384.30H119.35V427.93H115.39zM121.98 384.30H123.30V427.93H121.98zM144.40 384.30H149.68V427.93H144.40zM151.00 384.30H152.32V427.93H151.00zM164.19 384.30H166.82V427.93H164.19zM186.61 384.30H187.92V427.93H186.61zM189.24 384.30H190.56V427.93H189.24zM198.47 384.30H202.43V427.93H198.47zM203.75 384.30H205.07V427.93H203.75zM207.71 384.30H211.66V427.93H207.71zM227.49 384.30H230.13V427.93H227.49zM231.44 384.30H232.76V427.93H231.44zM234.08 384.30H236.72V427.93H234.08zM238.04 384.30H239.36V427.93H238.04zM242.00 384.30H243.31V427.93H242.00zM247.27 384.30H248.59V427.93H247.27zM249.91 384.30H251.23V427.93H249.91zM260.46 384.30H263.10V427.93H260.46zM264.42 384.30H265.73V427.93H264.42zM273.65 384.30H274.97V427.93H273.65zM277.60 384.30H280.24V427.93H277.60zM285.52 384.30H286.83V427.93H285.52zM300.02 384.30H302.66V427.93H300.02zM310.57 384.30H311.89V427.93H310.57zM317.17 384.30H318.49V427.93H317.17zM323.76 384.30H325.08V427.93H323.76zM342.22 384.30H343.54V427.93H342.22zM354.09 384.30H355.41V427.93H354.09zM364.64 384.30H365.96V427.93H364.64zM375.19 384.30H376.51V427.93H375.19zM381.79 384.30H384.43V427.93H381.79zM394.98 384.30H397.61V427.93H394.98zM400.25 384.30H401.57V427.93H400.25zM404.21 384.30H406.85V427.93H404.21zM408.17 384.30H409.48V427.93H408.17zM429.27 384.30H430.58V427.93H429.27zM437.18 384.30H442.45V427.93H437.18zM474.11 384.30H476.74V427.93H474.11zM478.06 384.30H479.38V427.93H478.06zM493.89 384.30H495.21V427.93H493.89zM513.67 384.30H514.99V427.93H513.67zM524.22 384.30H525.54V427.93H524.22zM528.18 384.30H529.50V427.93H528.18zM549.28 384.30H550.60V427.93H549.28zM554.55 384.30H555.87V427.93H554.55zM561.15 384.30H563.78V427.93H561.15zM575.65 384.30H578.29V427.93H575.65zM591.48 384.30H592.80V427.93H591.48zM594.12 384.30H595.44V427.93H594.12zM604.67 384.30H605.99V427.93H604.67zM620.49 384.30H621.81V427.93H620.49zM631.04 384.30H635.00V427.93H631.04zM125.94 427.93H127.26V471.56H125.94zM128.58 427.93H129.90V471.56H128.58zM135.17 427.93H137.81V471.56H135.17zM139.13 427.93H140.45V471.56H139.13zM151.00 427.93H152.32V471.56H151.00zM153.64 427.93H154.95V471.56H153.64zM160.23 427.93H164.19V471.56H160.23zM178.69 427.93H181.33V471.56H178.69zM182.65 427.93H183.97V471.56H182.65zM190.56 427.93H191.88V471.56H190.56zM194.52 427.93H198.47V471.56H194.52zM207.71 427.93H209.03V471.56H207.71zM215.62 427.93H216.94V471.56H215.62zM224.85 427.93H226.17V471.56H224.85zM227.49 427.93H228.81V471.56H227.49zM232.76 427.93H235.40V471.56H232.76zM245.95 427.93H247.27V471.56H245.95zM253.86 427.93H256.50V471.56H253.86zM263.10 427.93H267.05V471.56H263.10zM273.65 427.93H274.97V471.56H273.65zM277.60 427.93H280.24V471.56H277.60zM290.79 427.93H292.11V471.56H290.79zM297.39 427.93H300.02V471.56H297.39zM301.34 427.93H303.98V471.56H301.34zM321.12 427.93H322.44V471.56H321.12zM340.91 427.93H343.54V471.56H340.91zM347.50 427.93H348.82V471.56H347.50zM350.14 427.93H351.46V471.56H350.14zM356.73 427.93H358.05V471.56H356.73zM360.69 427.93H362.01V471.56H360.69zM364.64 427.93H367.28V471.56H364.64zM372.56 427.93H375.19V471.56H372.56zM380.47 427.93H381.79V471.56H380.47zM387.06 427.93H391.02V471.56H387.06zM394.98 427.93H398.93V471.56H394.98zM402.89 427.93H404.21V471.56H402.89zM410.80 427.93H412.12V471.56H410.80zM413.44 427.93H417.40V471.56H413.44zM418.72 427.93H422.67V471.56H418.72zM425.31 427.93H426.63V471.56H425.31zM429.27 427.93H431.90V471.56H429.27zM445.09 427.93H446.41V471.56H445.09zM451.69 427.93H454.32V471.56H451.69zM466.19 427.93H467.51V471.56H466.19zM472.79 427.93H474.11V471.56H472.79zM493.89 427.93H495.21V471.56H493.89zM505.76 427.93H507.08V471.56H505.76zM514.99 427.93H518.94V471.56H514.99zM521.58 427.93H526.86V471.56H521.58zM545.32 427.93H547.96V471.56H545.32zM555.87 427.93H558.51V471.56H555.87zM576.97 427.93H578.29V471.56H576.97zM579.61 427.93H580.93V471.56H579.61zM587.52 427.93H591.48V471.56H587.52zM613.90 427.93H615.22V471.56H613.90zM632.36 427.93H633.68V471.56H632.36zM115.39 471.56H116.71V515.19H115.39zM118.03 471.56H120.67V515.19H118.03zM121.98 471.56H123.30V515.19H121.98zM129.90 471.56H131.22V515.19H129.90zM133.85 471.56H135.17V515.19H133.85zM140.45 471.56H144.40V515.19H140.45zM154.95 471.56H157.59V515.19H154.95zM160.23 471.56H162.87V515.19H160.23zM166.82 471.56H169.46V515.19H166.82zM173.42 471.56H174.74V515.19H173.42zM177.37 471.56H178.69V515.19H177.37zM193.20 471.56H194.52V515.19H193.20zM226.17 471.56H228.81V515.19H226.17zM231.44 471.56H234.08V515.19H231.44zM238.04 471.56H239.36V515.19H238.04zM244.63 471.56H245.95V515.19H244.63zM251.23 471.56H252.55V515.19H251.23zM260.46 471.56H261.78V515.19H260.46zM264.42 471.56H265.73V515.19H264.42zM267.05 471.56H268.37V515.19H267.05zM280.24 471.56H284.20V515.19H280.24zM300.02 471.56H301.34V515.19H300.02zM307.94 471.56H311.89V515.19H307.94zM336.95 471.56H342.22V515.19H336.95zM346.18 471.56H347.50V515.19H346.18zM355.41 471.56H360.69V515.19H355.41zM367.28 471.56H368.60V515.19H367.28zM372.56 471.56H375.19V515.19H372.56zM381.79 471.56H383.11V515.19H381.79zM398.93 471.56H401.57V515.19H398.93zM404.21 471.56H405.53V515.19H404.21zM406.85 471.56H408.17V515.19H406.85zM409.48 471.56H413.44V515.19H409.48zM427.95 471.56H429.27V515.19H427.95zM431.90 471.56H434.54V515.19H431.90zM447.73 471.56H449.05V515.19H447.73zM459.60 471.56H462.24V515.19H459.60zM463.56 471.56H464.87V515.19H463.56zM467.51 471.56H471.47V515.19H467.51zM476.74 471.56H480.70V515.19H476.74zM489.93 471.56H491.25V515.19H489.93zM492.57 471.56H495.21V515.19H492.57zM509.71 471.56H511.03V515.19H509.71zM514.99 471.56H518.94V515.19H514.99zM521.58 471.56H525.54V515.19H521.58zM534.77 471.56H541.36V515.19H534.77zM551.92 471.56H555.87V515.19H551.92zM557.19 471.56H558.51V515.19H557.19zM570.38 471.56H573.02V515.19H570.38zM578.29 471.56H580.93V515.19H578.29zM587.52 471.56H590.16V515.19H587.52zM595.44 471.56H596.75V515.19H595.44zM602.03 471.56H605.99V515.19H602.03zM611.26 471.56H612.58V515.19H611.26zM616.54 471.56H621.81V515.19H616.54zM631.04 471.56H632.36V515.19H631.04zM106.16 515.19H107.48V558.82H106.16zM118.03 515.19H120.67V558.82H118.03zM121.98 515.19H129.90V558.82H121.98zM131.22 515.19H132.53V558.82H131.22zM147.04 515.19H148.36V558.82H147.04zM160.23 515.19H162.87V558.82H160.23zM173.42 515.19H177.37V558.82H173.42zM186.61 515.19H191.88V558.82H186.61zM210.34 515.19H211.66V558.82H210.34zM216.94 515.19H220.89V558.82H216.94zM223.53 515.19H224.85V558.82H223.53zM238.04 515.19H239.36V558.82H238.04zM244.63 515.19H248.59V558.82H244.63zM252.55 515.19H253.86V558.82H252.55zM255.18 515.19H256.50V558.82H255.18zM272.33 515.19H273.65V558.82H272.33zM277.60 515.19H280.24V558.82H277.60zM298.70 515.19H301.34V558.82H298.70zM307.94 515.19H310.57V558.82H307.94zM340.91 515.19H344.86V558.82H340.91zM348.82 515.19H350.14V558.82H348.82zM354.09 515.19H358.05V558.82H354.09zM381.79 515.19H383.11V558.82H381.79zM433.22 515.19H434.54V558.82H433.22zM437.18 515.19H441.14V558.82H437.18zM447.73 515.19H451.69V558.82H447.73zM459.60 515.19H460.92V558.82H459.60zM472.79 515.19H475.42V558.82H472.79zM487.29 515.19H488.61V558.82H487.29zM491.25 515.19H492.57V558.82H491.25zM496.53 515.19H497.84V558.82H496.53zM501.80 515.19H504.44V558.82H501.80zM505.76 515.19H507.08V558.82H505.76zM509.71 515.19H512.35V558.82H509.71zM518.94 515.19H520.26V558.82H518.94zM532.13 515.19H533.45V558.82H532.13zM544.00 515.19H545.32V558.82H544.00zM546.64 515.19H547.96V558.82H546.64zM592.80 515.19H594.12V558.82H592.80zM595.44 515.19H598.07V558.82H595.44zM607.31 515.19H609.94V558.82H607.31zM624.45 515.19H625.77V558.82H624.45zM65.28 558.82H66.59V602.45H65.28zM67.91 558.82H69.23V602.45H67.91zM74.51 558.82H75.83V602.45H74.51zM79.78 558.82H83.74V602.45H79.78zM87.69 558.82H91.65V602.45H87.69zM96.93 558.82H98.25V602.45H96.93zM100.88 558.82H102.20V602.45H100.88zM103.52 558.82H108.80V602.45H103.52zM110.11 558.82H114.07V602.45H110.11zM124.62 558.82H125.94V602.45H124.62zM143.08 558.82H144.40V602.45H143.08zM145.72 558.82H148.36V602.45H145.72zM177.37 558.82H178.69V602.45H177.37zM193.20 558.82H195.84V602.45H193.20zM232.76 558.82H234.08V602.45H232.76zM252.55 558.82H253.86V602.45H252.55zM265.73 558.82H268.37V602.45H265.73zM306.62 558.82H309.25V602.45H306.62zM311.89 558.82H314.53V602.45H311.89zM317.17 558.82H319.81V602.45H317.17zM347.50 558.82H351.46V602.45H347.50zM360.69 558.82H365.96V602.45H360.69zM371.24 558.82H376.51V602.45H371.24zM384.43 558.82H387.06V602.45H384.43zM400.25 558.82H404.21V602.45H400.25zM410.80 558.82H413.44V602.45H410.80zM421.35 558.82H423.99V602.45H421.35zM426.63 558.82H427.95V602.45H426.63zM451.69 558.82H453.00V602.45H451.69zM464.87 558.82H466.19V602.45H464.87zM472.79 558.82H475.42V602.45H472.79zM483.34 558.82H484.66V602.45H483.34zM488.61 558.82H491.25V602.45H488.61zM497.84 558.82H499.16V602.45H497.84zM512.35 558.82H514.99V602.45H512.35zM529.50 558.82H533.45V602.45H529.50zM542.68 558.82H544.00V602.45H542.68zM569.06 558.82H570.38V602.45H569.06zM579.61 558.82H580.93V602.45H579.61zM590.16 558.82H591.48V602.45H590.16zM594.12 558.82H595.44V602.45H594.12zM596.75 558.82H598.07V602.45H596.75zM603.35 558.82H604.67V602.45H603.35zM616.54 558.82H617.86V602.45H616.54zM623.13 558.82H624.45V602.45H623.13zM60.00 602.45H71.87V646.08H60.00zM73.19 602.45H74.51V646.08H73.19zM75.83 602.45H85.06V646.08H75.83zM89.01 602.45H91.65V646.08H89.01zM95.61 602.45H112.75V646.08H95.61zM131.22 602.45H132.53V646.08H131.22zM141.77 602.45H143.08V646.08H141.77zM154.95 602.45H156.27V646.08H154.95zM165.50 602.45H166.82V646.08H165.50zM172.10 602.45H173.42V646.08H172.10zM197.16 602.45H199.79V646.08H197.16zM210.34 602.45H214.30V646.08H210.34zM230.13 602.45H231.44V646.08H230.13zM245.95 602.45H247.27V646.08H245.95zM260.46 602.45H261.78V646.08H260.46zM264.42 602.45H265.73V646.08H264.42zM277.60 602.45H281.56V646.08H277.60zM297.39 602.45H301.34V646.08H297.39zM322.44 602.45H323.76V646.08H322.44zM342.22 602.45H343.54V646.08H342.22zM347.50 602.45H348.82V646.08H347.50zM351.46 602.45H355.41V646.08H351.46zM365.96 602.45H367.28V646.08H365.96zM373.88 602.45H375.19V646.08H373.88zM391.02 602.45H392.34V646.08H391.02zM410.80 602.45H414.76V646.08H410.80zM423.99 602.45H425.31V646.08H423.99zM435.86 602.45H437.18V646.08H435.86zM442.45 602.45H447.73V646.08H442.45zM451.69 602.45H454.32V646.08H451.69zM487.29 602.45H489.93V646.08H487.29zM512.35 602.45H513.67V646.08H512.35zM518.94 602.45H520.26V646.08H518.94zM536.09 602.45H538.73V646.08H536.09zM558.51 602.45H561.15V646.08H558.51zM588.84 602.45H590.16V646.08H588.84zM594.12 602.45H595.44V646.08H594.12zM596.75 602.45H598.07V646.08H596.75zM632.36 602.45H635.00V646.08H632.36zM60.00 646.08H63.96V689.71H60.00zM65.28 646.08H70.55V689.71H65.28zM71.87 646.08H73.19V689.71H71.87zM75.83 646.08H79.78V689.71H75.83zM83.74 646.08H87.69V689.71H83.74zM90.33 646.08H95.61V689.71H90.33zM96.93 646.08H107.48V689.71H96.93zM110.11 646.08H114.07V689.71H110.11zM132.53 646.08H133.85V689.71H132.53zM135.17 646.08H137.81V689.71H135.17zM151.00 646.08H152.32V689.71H151.00zM161.55 646.08H165.50V689.71H161.55zM177.37 646.08H178.69V689.71H177.37zM183.97 646.08H186.61V689.71H183.97zM197.16 646.08H199.79V689.71H197.16zM206.39 646.08H207.71V689.71H206.39zM212.98 646.08H215.62V689.71H212.98zM235.40 646.08H236.72V689.71H235.40zM244.63 646.08H247.27V689.71H244.63zM255.18 646.08H256.50V689.71H255.18zM257.82 646.08H259.14V689.71H257.82zM260.46 646.08H261.78V689.71H260.46zM298.70 646.08H301.34V689.71H298.70zM311.89 646.08H313.21V689.71H311.89zM321.12 646.08H322.44V689.71H321.12zM334.31 646.08H335.63V689.71H334.31zM336.95 646.08H338.27V689.71H336.95zM356.73 646.08H358.05V689.71H356.73zM363.33 646.08H367.28V689.71H363.33zM389.70 646.08H391.02V689.71H389.70zM396.30 646.08H397.61V689.71H396.30zM427.95 646.08H429.27V689.71H427.95zM435.86 646.08H437.18V689.71H435.86zM443.77 646.08H447.73V689.71H443.77zM459.60 646.08H463.56V689.71H459.60zM472.79 646.08H475.42V689.71H472.79zM491.25 646.08H492.57V689.71H491.25zM493.89 646.08H496.53V689.71H493.89zM500.48 646.08H501.80V689.71H500.48zM508.39 646.08H511.03V689.71H508.39zM513.67 646.08H514.99V689.71H513.67zM521.58 646.08H522.90V689.71H521.58zM540.05 646.08H541.36V689.71H540.05zM574.33 646.08H578.29V689.71H574.33zM587.52 646.08H588.84V689.71H587.52zM590.16 646.08H594.12V689.71H590.16zM599.39 646.08H602.03V689.71H599.39zM632.36 646.08H635.00V689.71H632.36zM61.32 689.71H62.64V733.34H61.32zM66.59 689.71H67.91V733.34H66.59zM73.19 689.71H74.51V733.34H73.19zM75.83 689.71H79.78V733.34H75.83zM85.06 689.71H86.38V733.34H85.06zM95.61 689.71H110.11V733.34H95.61zM124.62 689.71H125.94V733.34H124.62zM152.32 689.71H153.64V733.34H152.32zM156.27 689.71H157.59V733.34H156.27zM166.82 689.71H168.14V733.34H166.82zM177.37 689.71H178.69V733.34H177.37zM185.29 689.71H187.92V733.34H185.29zM216.94 689.71H218.26V733.34H216.94zM222.21 689.71H223.53V733.34H222.21zM231.44 689.71H232.76V733.34H231.44zM277.60 689.71H278.92V733.34H277.60zM290.79 689.71H292.11V733.34H290.79zM297.39 689.71H302.66V733.34H297.39zM303.98 689.71H306.62V733.34H303.98zM318.49 689.71H319.81V733.34H318.49zM331.67 689.71H334.31V733.34H331.67zM346.18 689.71H347.50V733.34H346.18zM355.41 689.71H356.73V733.34H355.41zM372.56 689.71H373.88V733.34H372.56zM377.83 689.71H380.47V733.34H377.83zM389.70 689.71H391.02V733.34H389.70zM418.72 689.71H420.03V733.34H418.72zM430.58 689.71H431.90V733.34H430.58zM467.51 689.71H468.83V733.34H467.51zM480.70 689.71H483.34V733.34H480.70zM497.84 689.71H499.16V733.34H497.84zM518.94 689.71H520.26V733.34H518.94zM521.58 689.71H522.90V733.34H521.58zM555.87 689.71H558.51V733.34H555.87zM586.20 689.71H587.52V733.34H586.20zM588.84 689.71H592.80V733.34H588.84zM616.54 689.71H617.86V733.34H616.54zM625.77 689.71H627.09V733.34H625.77zM628.41 689.71H629.72V733.34H628.41zM60.00 733.34H83.74V776.97H60.00zM85.06 733.34H95.61V776.97H85.06zM96.93 733.34H108.80V776.97H96.93zM110.11 733.34H114.07V776.97H110.11zM136.49 733.34H140.45V776.97H136.49zM169.46 733.34H172.10V776.97H169.46zM186.61 733.34H187.92V776.97H186.61zM211.66 733.34H215.62V776.97H211.66zM272.33 733.34H276.28V776.97H272.33zM297.39 733.34H302.66V776.97H297.39zM311.89 733.34H314.53V776.97H311.89zM329.04 733.34H330.36V776.97H329.04zM338.27 733.34H340.91V776.97H338.27zM365.96 733.34H367.28V776.97H365.96zM387.06 733.34H388.38V776.97H387.06zM398.93 733.34H400.25V776.97H398.93zM405.53 733.34H408.17V776.97H405.53zM414.76 733.34H417.40V776.97H414.76zM421.35 733.34H422.67V776.97H421.35zM445.09 733.34H446.41V776.97H445.09zM459.60 733.34H462.24V776.97H459.60zM466.19 733.34H467.51V776.97H466.19zM500.48 733.34H503.12V776.97H500.48zM514.99 733.34H516.31V776.97H514.99zM524.22 733.34H526.86V776.97H524.22zM534.77 733.34H538.73V776.97H534.77zM549.28 733.34H551.92V776.97H549.28zM554.55 733.34H557.19V776.97H554.55zM576.97 733.34H578.29V776.97H576.97zM588.84 733.34H591.48V776.97H588.84zM632.36 733.34H635.00V776.97H632.36zM60.00 776.97H74.51V820.60H60.00zM75.83 776.97H110.11V820.60H75.83zM112.75 776.97H114.07V820.60H112.75zM125.94 776.97H129.90V820.60H125.94zM135.17 776.97H136.49V820.60H135.17zM151.00 776.97H153.64V820.60H151.00zM180.01 776.97H185.29V820.60H180.01zM214.30 776.97H215.62V820.60H214.30zM226.17 776.97H227.49V820.60H226.17zM273.65 776.97H274.97V820.60H273.65zM323.76 776.97H326.40V820.60H323.76zM363.33 776.97H367.28V820.60H363.33zM373.88 776.97H375.19V820.60H373.88zM445.09 776.97H447.73V820.60H445.09zM466.19 776.97H470.15V820.60H466.19zM478.06 776.97H479.38V820.60H478.06zM485.97 776.97H487.29V820.60H485.97zM501.80 776.97H503.12V820.60H501.80zM538.73 776.97H541.36V820.60H538.73zM553.23 776.97H554.55V820.60H553.23zM587.52 776.97H588.84V820.60H587.52zM590.16 776.97H592.80V820.60H590.16zM599.39 776.97H600.71V820.60H599.39zM617.86 776.97H619.17V820.60H617.86zM633.68 776.97H635.00V820.60H633.68z"/>
<path fill="#8080ff" d="M102.20 384.30H103.52V427.93H102.20zM135.17 384.30H136.49V427.93H135.17zM140.45 384.30H141.77V427.93H140.45zM177.37 384.30H178.69V427.93H177.37zM219.58 384.30H220.89V427.93H219.58zM240.68 384.30H242.00V427.93H240.68zM265.73 384.30H267.05V427.93H265.73zM272.33 384.30H273.65V427.93H272.33zM288.15 384.30H290.79V427.93H288.15zM311.89 384.30H313.21V427.93H311.89zM336.95 384.30H338.27V427.93H336.95zM340.91 384.30H342.22V427.93H340.91zM343.54 384.30H344.86V427.93H343.54zM462.24 384.30H463.56V427.93H462.24zM546.64 384.30H549.28V427.93H546.64zM355.41 427.93H356.73V471.56H355.41zM437.18 427.93H438.50V471.56H437.18zM468.83 427.93H470.15V471.56H468.83zM471.47 427.93H472.79V471.56H471.47zM509.71 427.93H511.03V471.56H509.71zM540.05 427.93H541.36V471.56H540.05zM591.48 427.93H595.44V471.56H591.48zM602.03 427.93H603.35V471.56H602.03zM615.22 427.93H616.54V471.56H615.22zM145.72 471.56H147.04V515.19H145.72zM152.32 471.56H153.64V515.19H152.32zM183.97 471.56H185.29V515.19H183.97zM219.58 471.56H220.89V515.19H219.58zM234.08 471.56H235.40V515.19H234.08zM249.91 471.56H251.23V515.19H249.91zM265.73 471.56H267.05V515.19H265.73zM289.47 471.56H290.79V515.19H289.47zM311.89 471.56H313.21V515.19H311.89zM351.46 471.56H354.09V515.19H351.46zM417.40 471.56H418.72V515.19H417.40zM430.58 471.56H431.90V515.19H430.58zM439.82 471.56H441.14V515.19H439.82zM454.32 471.56H455.64V515.19H454.32zM484.66 471.56H487.29V515.19H484.66zM505.76 471.56H507.08V515.19H505.76zM555.87 471.56H557.19V515.19H555.87zM158.91 515.19H160.23V558.82H158.91zM181.33 515.19H182.65V558.82H181.33zM222.21 515.19H223.53V558.82H222.21zM253.86 515.19H255.18V558.82H253.86zM256.50 515.19H260.46V558.82H256.50zM271.01 515.19H272.33V558.82H271.01zM317.17 515.19H318.49V558.82H317.17zM322.44 515.19H323.76V558.82H322.44zM375.19 515.19H376.51V558.82H375.19zM406.85 515.19H408.17V558.82H406.85zM416.08 515.19H417.40V558.82H416.08zM429.27 515.19H430.58V558.82H429.27zM434.54 515.19H435.86V558.82H434.54zM460.92 515.19H462.24V558.82H460.92zM484.66 515.19H485.97V558.82H484.66zM526.86 515.19H528.18V558.82H526.86zM541.36 515.19H542.68V558.82H541.36zM558.51 515.19H559.83V558.82H558.51zM561.15 515.19H562.47V558.82H561.15zM594.12 515.19H595.44V558.82H594.12zM86.38 558.82H87.69V602.45H86.38zM92.97 558.82H95.61V602.45H92.97zM102.20 558.82H103.52V602.45H102.20zM123.30 558.82H124.62V602.45H123.30zM125.94 558.82H127.26V602.45H125.94zM128.58 558.82H129.90V602.45H128.58zM164.19 558.82H166.82V602.45H164.19zM168.14 558.82H169.46V602.45H168.14zM170.78 558.82H172.10V602.45H170.78zM180.01 558.82H181.33V602.45H180.01zM231.44 558.82H232.76V602.45H231.44zM342.22 558.82H343.54V602.45H342.22zM434.54 558.82H435.86V602.45H434.54zM442.45 558.82H443.77V602.45H442.45zM453.00 558.82H455.64V602.45H453.00zM528.18 558.82H529.50V602.45H528.18zM547.96 558.82H549.28V602.45H547.96zM588.84 558.82H590.16V602.45H588.84zM595.44 558.82H596.75V602.45H595.44zM621.81 558.82H623.13V602.45H621.81zM87.69 602.45H89.01V646.08H87.69zM239.36 602.45H240.68V646.08H239.36zM253.86 602.45H255.18V646.08H253.86zM261.78 602.45H263.10V646.08H261.78zM314.53 602.45H315.85V646.08H314.53zM348.82 602.45H350.14V646.08H348.82zM371.24 602.45H372.56V646.08H371.24zM416.08 602.45H417.40V646.08H416.08zM425.31 602.45H426.63V646.08H425.31zM430.58 602.45H431.90V646.08H430.58zM433.22 602.45H434.54V646.08H433.22zM462.24 602.45H463.56V646.08H462.24zM478.06 602.45H479.38V646.08H478.06zM540.05 602.45H541.36V646.08H540.05zM545.32 602.45H546.64V646.08H545.32zM592.80 602.45H594.12V646.08H592.80zM70.55 646.08H71.87V689.71H70.55zM81.10 646.08H82.42V689.71H81.10zM228.81 646.08H230.13V689.71H228.81zM236.72 646.08H238.04V689.71H236.72zM253.86 646.08H255.18V689.71H253.86zM329.04 646.08H330.36V689.71H329.04zM368.60 646.08H369.92V689.71H368.60zM372.56 646.08H373.88V689.71H372.56zM380.47 646.08H381.79V689.71H380.47zM405.53 646.08H406.85V689.71H405.53zM447.73 646.08H449.05V689.71H447.73zM480.70 646.08H482.02V689.71H480.70zM497.84 646.08H500.48V689.71H497.84zM518.94 646.08H520.26V689.71H518.94zM529.50 646.08H530.81V689.71H529.50zM536.09 646.08H537.41V689.71H536.09zM559.83 646.08H561.15V689.71H559.83zM596.75 646.08H598.07V689.71H596.75zM604.67 646.08H607.31V689.71H604.67zM60.00 689.71H61.32V733.34H60.00zM65.28 689.71H66.59V733.34H65.28zM86.38 689.71H87.69V733.34H86.38zM94.29 689.71H95.61V733.34H94.29zM187.92 689.71H189.24V733.34H187.92zM202.43 689.71H203.75V733.34H202.43zM235.40 689.71H236.72V733.34H235.40zM239.36 689.71H240.68V733.34H239.36zM255.18 689.71H256.50V733.34H255.18zM306.62 689.71H307.94V733.34H306.62zM321.12 689.71H322.44V733.34H321.12zM354.09 689.71H355.41V733.34H354.09zM438.50 689.71H439.82V733.34H438.50zM470.15 689.71H471.47V733.34H470.15zM517.63 689.71H518.94V733.34H517.63zM617.86 689.71H619.17V733.34H617.86zM168.14 733.34H169.46V776.97H168.14zM198.47 733.34H199.79V776.97H198.47zM238.04 733.34H239.36V776.97H238.04zM375.19 733.34H376.51V776.97H375.19zM400.25 733.34H401.57V776.97H400.25zM429.27 733.34H430.58V776.97H429.27zM504.44 733.34H505.76V776.97H504.44zM513.67 733.34H514.99V776.97H513.67zM540.05 733.34H541.36V776.97H540.05zM625.77 733.34H627.09V776.97H625.77zM111.43 776.97H112.75V820.60H111.43zM114.07 776.97H115.39V820.60H114.07zM201.11 776.97H202.43V820.60H201.11zM236.72 776.97H238.04V820.60H236.72zM264.42 776.97H265.73V820.60H264.42zM274.97 776.97H277.60V820.60H274.97zM298.70 776.97H300.02V820.60H298.70zM330.36 776.97H331.67V820.60H330.36zM356.73 776.97H358.05V820.60H356.73zM537.41 776.97H538.73V820.60H537.41zM542.68 776.97H544.00V820.60H542.68zM551.92 776.97H553.23V820.60H551.92zM576.97 776.97H578.29V820.60H576.97z"/>
<path fill="#ff6666" d="M103.52 384.30H104.84V427.93H103.52zM281.56 384.30H282.88V427.93H281.56zM456.96 384.30H458.28V427.93H456.96zM488.61 384.30H489.93V427.93H488.61zM599.39 384.30H600.71V427.93H599.39zM173.42 427.93H174.74V471.56H173.42zM274.97 427.93H276.28V471.56H274.97zM307.94 427.93H309.25V471.56H307.94zM317.17 427.93H319.81V471.56H317.17zM464.87 427.93H466.19V471.56H464.87zM562.47 427.93H563.78V471.56H562.47zM611.26 427.93H612.58V471.56H611.26zM157.59 471.56H158.91V515.19H157.59zM164.19 471.56H165.50V515.19H164.19zM271.01 471.56H272.33V515.19H271.01zM305.30 471.56H306.62V515.19H305.30zM314.53 471.56H315.85V515.19H314.53zM368.60 471.56H369.92V515.19H368.60zM414.76 471.56H416.08V515.19H414.76zM451.69 471.56H453.00V515.19H451.69zM475.42 471.56H476.74V515.19H475.42zM508.39 471.56H509.71V515.19H508.39zM152.32 515.19H153.64V558.82H152.32zM168.14 515.19H169.46V558.82H168.14zM226.17 515.19H227.49V558.82H226.17zM228.81 515.19H230.13V558.82H228.81zM575.65 515.19H576.97V558.82H575.65zM269.69 558.82H271.01V602.45H269.69zM285.52 558.82H286.83V602.45H285.52zM297.39 558.82H298.70V602.45H297.39zM335.63 558.82H336.95V602.45H335.63zM339.59 558.82H340.91V602.45H339.59zM359.37 558.82H360.69V602.45H359.37zM493.89 558.82H496.53V602.45H493.89zM505.76 558.82H507.08V602.45H505.76zM536.09 558.82H537.41V602.45H536.09zM611.26 558.82H612.58V602.45H611.26zM116.71 602.45H118.03V646.08H116.71zM136.49 602.45H137.81V646.08H136.49zM157.59 602.45H158.91V646.08H157.59zM166.82 602.45H168.14V646.08H166.82zM186.61 602.45H187.92V646.08H186.61zM276.28 602.45H277.60V646.08H276.28zM288.15 602.45H289.47V646.08H288.15zM367.28 602.45H368.60V646.08H367.28zM623.13 602.45H624.45V646.08H623.13zM160.23 646.08H161.55V689.71H160.23zM181.33 646.08H182.65V689.71H181.33zM387.06 646.08H388.38V689.71H387.06zM409.48 646.08H410.80V689.71H409.48zM466.19 646.08H467.51V689.71H466.19zM528.18 646.08H529.50V689.71H528.18zM621.81 646.08H623.13V689.71H621.81zM115.39 689.71H116.71V733.34H115.39zM141.77 689.71H143.08V733.34H141.77zM160.23 689.71H161.55V733.34H160.23zM245.95 689.71H247.27V733.34H245.95zM267.05 689.71H268.37V733.34H267.05zM322.44 689.71H323.76V733.34H322.44zM383.11 689.71H384.43V733.34H383.11zM511.03 689.71H512.35V733.34H511.03zM583.57 689.71H584.89V733.34H583.57zM596.75 689.71H599.39V733.34H596.75zM608.62 689.71H609.94V733.34H608.62zM611.26 689.71H612.58V733.34H611.26zM83.74 733.34H85.06V776.97H83.74zM124.62 733.34H125.94V776.97H124.62zM162.87 733.34H164.19V776.97H162.87zM181.33 733.34H182.65V776.97H181.33zM261.78 733.34H263.10V776.97H261.78zM376.51 733.34H377.83V776.97H376.51zM391.02 733.34H392.34V776.97H391.02zM412.12 733.34H413.44V776.97H412.12zM449.05 733.34H450.37V776.97H449.05zM619.17 733.34H620.49V776.97H619.17zM263.10 776.97H264.42V820.60H263.10zM327.72 776.97H330.36V820.60H327.72zM437.18 776.97H438.50V820.60H437.18zM458.28 776.97H459.60V820.60H458.28zM480.70 776.97H482.02V820.60H480.70zM493.89 776.97H495.21V820.60H493.89zM516.31 776.97H517.63V820.60H516.31z"/>
<path fill="#3333ff" d="M104.84 384.30H106.16V427.93H104.84zM222.21 384.30H223.53V427.93H222.21zM302.66 384.30H303.98V427.93H302.66zM307.94 384.30H309.25V427.93H307.94zM339.59 384.30H340.91V427.93H339.59zM359.37 384.30H360.69V427.93H359.37zM414.76 384.30H416.08V427.93H414.76zM447.73 384.30H449.05V427.93H447.73zM487.29 384.30H488.61V427.93H487.29zM491.25 384.30H492.57V427.93H491.25zM501.80 384.30H503.12V427.93H501.80zM541.36 384.30H542.68V427.93H541.36zM574.33 384.30H575.65V427.93H574.33zM623.13 384.30H624.45V427.93H623.13zM627.09 384.30H628.41V427.93H627.09zM140.45 427.93H141.77V471.56H140.45zM185.29 427.93H186.61V471.56H185.29zM187.92 427.93H190.56V471.56H187.92zM201.11 427.93H202.43V471.56H201.11zM206.39 427.93H207.71V471.56H206.39zM230.13 427.93H231.44V471.56H230.13zM235.40 427.93H238.04V471.56H235.40zM288.15 427.93H289.47V471.56H288.15zM336.95 427.93H338.27V471.56H336.95zM379.15 427.93H380.47V471.56H379.15zM431.90 427.93H433.22V471.56H431.90zM435.86 427.93H437.18V471.56H435.86zM443.77 427.93H445.09V471.56H443.77zM482.02 427.93H483.34V471.56H482.02zM495.21 427.93H496.53V471.56H495.21zM499.16 427.93H500.48V471.56H499.16zM553.23 427.93H554.55V471.56H553.23zM631.04 427.93H632.36V471.56H631.04zM248.59 471.56H249.91V515.19H248.59zM253.86 471.56H255.18V515.19H253.86zM375.19 471.56H376.51V515.19H375.19zM384.43 471.56H385.75V515.19H384.43zM416.08 471.56H417.40V515.19H416.08zM437.18 471.56H438.50V515.19H437.18zM458.28 471.56H459.60V515.19H458.28zM466.19 471.56H467.51V515.19H466.19zM144.40 515.19H147.04V558.82H144.40zM157.59 515.19H158.91V558.82H157.59zM170.78 515.19H172.10V558.82H170.78zM220.89 515.19H222.21V558.82H220.89zM311.89 515.19H313.21V558.82H311.89zM327.72 515.19H329.04V558.82H327.72zM339.59 515.19H340.91V558.82H339.59zM384.43 515.19H385.75V558.82H384.43zM401.57 515.19H402.89V558.82H401.57zM479.38 515.19H480.70V558.82H479.38zM492.57 515.19H493.89V558.82H492.57zM512.35 515.19H513.67V558.82H512.35zM555.87 515.19H557.19V558.82H555.87zM627.09 515.19H628.41V558.82H627.09zM62.64 558.82H63.96V602.45H62.64zM77.14 558.82H78.46V602.45H77.14zM91.65 558.82H92.97V602.45H91.65zM251.23 558.82H252.55V602.45H251.23zM272.33 558.82H273.65V602.45H272.33zM278.92 558.82H280.24V602.45H278.92zM288.15 558.82H289.47V602.45H288.15zM319.81 558.82H321.12V602.45H319.81zM329.04 558.82H330.36V602.45H329.04zM425.31 558.82H426.63V602.45H425.31zM518.94 558.82H520.26V602.45H518.94zM71.87 602.45H73.19V646.08H71.87zM114.07 602.45H115.39V646.08H114.07zM256.50 602.45H257.82V646.08H256.50zM263.10 602.45H264.42V646.08H263.10zM303.98 602.45H305.30V646.08H303.98zM321.12 602.45H322.44V646.08H321.12zM332.99 602.45H334.31V646.08H332.99zM350.14 602.45H351.46V646.08H350.14zM402.89 602.45H404.21V646.08H402.89zM463.56 602.45H466.19V646.08H463.56zM582.25 602.45H583.57V646.08H582.25zM607.31 602.45H608.62V646.08H607.31zM107.48 646.08H108.80V689.71H107.48zM297.39 646.08H298.70V689.71H297.39zM301.34 646.08H302.66V689.71H301.34zM309.25 646.08H310.57V689.71H309.25zM348.82 646.08H350.14V689.71H348.82zM383.11 646.08H384.43V689.71H383.11zM398.93 646.08H400.25V689.71H398.93zM412.12 646.08H413.44V689.71H412.12zM511.03 646.08H512.35V689.71H511.03zM553.23 646.08H555.87V689.71H553.23zM67.91 689.71H69.23V733.34H67.91zM87.69 689.71H89.01V733.34H87.69zM111.43 689.71H112.75V733.34H111.43zM153.64 689.71H156.27V733.34H153.64zM176.06 689.71H177.37V733.34H176.06zM183.97 689.71H185.29V733.34H183.97zM211.66 689.71H212.98V733.34H211.66zM236.72 689.71H238.04V733.34H236.72zM269.69 689.71H271.01V733.34H269.69zM302.66 689.71H303.98V733.34H302.66zM381.79 689.71H383.11V733.34H381.79zM398.93 689.71H400.25V733.34H398.93zM445.09 689.71H446.41V733.34H445.09zM468.83 689.71H470.15V733.34H468.83zM479.38 689.71H480.70V733.34H479.38zM496.53 689.71H497.84V733.34H496.53zM613.90 689.71H616.54V733.34H613.90zM249.91 733.34H251.23V776.97H249.91zM327.72 733.34H329.04V776.97H327.72zM360.69 733.34H362.01V776.97H360.69zM367.28 733.34H368.60V776.97H367.28zM369.92 733.34H371.24V776.97H369.92zM431.90 733.34H433.22V776.97H431.90zM489.93 733.34H491.25V776.97H489.93zM522.90 733.34H524.22V776.97H522.90zM557.19 733.34H558.51V776.97H557.19zM613.90 733.34H615.22V776.97H613.90zM627.09 733.34H628.41V776.97H627.09zM302.66 776.97H305.30V820.60H302.66zM375.19 776.97H376.51V820.60H375.19zM383.11 776.97H384.43V820.60H383.11zM396.30 776.97H397.61V820.60H396.30zM404.21 776.97H405.53V820.60H404.21zM413.44 776.97H414.76V820.60H413.44zM443.77 776.97H445.09V820.60H443.77zM475.42 776.97H478.06V820.60H475.42z"/>
<path fill="#b2b2ff" d="M112.75 384.30H114.07V427.93H112.75zM132.53 384.30H133.85V427.93H132.53zM176.06 384.30H177.37V427.93H176.06zM239.36 384.30H240.68V427.93H239.36zM259.14 384.30H260.46V427.93H259.14zM329.04 384.30H330.36V427.93H329.04zM350.14 384.30H351.46V427.93H350.14zM367.28 384.30H368.60V427.93H367.28zM373.88 384.30H375.19V427.93H373.88zM409.48 384.30H410.80V427.93H409.48zM416.08 384.30H417.40V427.93H416.08zM430.58 384.30H431.90V427.93H430.58zM450.37 384.30H451.69V427.93H450.37zM453.00 384.30H454.32V427.93H453.00zM466.19 384.30H467.51V427.93H466.19zM480.70 384.30H483.34V427.93H480.70zM492.57 384.30H493.89V427.93H492.57zM495.21 384.30H496.53V427.93H495.21zM503.12 384.30H504.44V427.93H503.12zM520.26 384.30H521.58V427.93H520.26zM522.90 384.30H524.22V427.93H522.90zM526.86 384.30H528.18V427.93H526.86zM537.41 384.30H538.73V427.93H537.41zM550.60 384.30H551.92V427.93H550.60zM569.06 384.30H570.38V427.93H569.06zM573.02 384.30H574.33V427.93H573.02zM580.93 384.30H582.25V427.93H580.93zM595.44 384.30H598.07V427.93H595.44zM118.03 427.93H119.35V471.56H118.03zM148.36 427.93H151.00V471.56H148.36zM157.59 427.93H158.91V471.56H157.59zM170.78 427.93H172.10V471.56H170.78zM198.47 427.93H199.79V471.56H198.47zM261.78 427.93H263.10V471.56H261.78zM286.83 427.93H288.15V471.56H286.83zM305.30 427.93H306.62V471.56H305.30zM314.53 427.93H317.17V471.56H314.53zM338.27 427.93H339.59V471.56H338.27zM358.05 427.93H359.37V471.56H358.05zM417.40 427.93H418.72V471.56H417.40zM422.67 427.93H423.99V471.56H422.67zM446.41 427.93H447.73V471.56H446.41zM480.70 427.93H482.02V471.56H480.70zM485.97 427.93H487.29V471.56H485.97zM489.93 427.93H491.25V471.56H489.93zM503.12 427.93H504.44V471.56H503.12zM599.39 427.93H600.71V471.56H599.39zM131.22 471.56H132.53V515.19H131.22zM162.87 471.56H164.19V515.19H162.87zM190.56 471.56H191.88V515.19H190.56zM194.52 471.56H195.84V515.19H194.52zM209.03 471.56H210.34V515.19H209.03zM212.98 471.56H214.30V515.19H212.98zM228.81 471.56H230.13V515.19H228.81zM235.40 471.56H236.72V515.19H235.40zM252.55 471.56H253.86V515.19H252.55zM393.66 471.56H394.98V515.19H393.66zM408.17 471.56H409.48V515.19H408.17zM456.96 471.56H458.28V515.19H456.96zM491.25 471.56H492.57V515.19H491.25zM500.48 471.56H501.80V515.19H500.48zM526.86 471.56H528.18V515.19H526.86zM590.16 471.56H591.48V515.19H590.16zM609.94 471.56H611.26V515.19H609.94zM129.90 515.19H131.22V558.82H129.90zM135.17 515.19H136.49V558.82H135.17zM139.13 515.19H140.45V558.82H139.13zM195.84 515.19H197.16V558.82H195.84zM248.59 515.19H251.23V558.82H248.59zM306.62 515.19H307.94V558.82H306.62zM321.12 515.19H322.44V558.82H321.12zM400.25 515.19H401.57V558.82H400.25zM414.76 515.19H416.08V558.82H414.76zM417.40 515.19H418.72V558.82H417.40zM435.86 515.19H437.18V558.82H435.86zM485.97 515.19H487.29V558.82H485.97zM500.48 515.19H501.80V558.82H500.48zM524.22 515.19H525.54V558.82H524.22zM599.39 515.19H600.71V558.82H599.39zM623.13 515.19H624.45V558.82H623.13zM633.68 515.19H635.00V558.82H633.68zM98.25 558.82H100.88V602.45H98.25zM108.80 558.82H110.11V602.45H108.80zM114.07 558.82H115.39V602.45H114.07zM118.03 558.82H119.35V602.45H118.03zM183.97 558.82H185.29V602.45H183.97zM215.62 558.82H216.94V602.45H215.62zM226.17 558.82H227.49V602.45H226.17zM242.00 558.82H245.95V602.45H242.00zM253.86 558.82H255.18V602.45H253.86zM405.53 558.82H406.85V602.45H405.53zM431.90 558.82H433.22V602.45H431.90zM438.50 558.82H439.82V602.45H438.50zM455.64 558.82H456.96V602.45H455.64zM480.70 558.82H482.02V602.45H480.70zM499.16 558.82H500.48V602.45H499.16zM508.39 558.82H509.71V602.45H508.39zM514.99 558.82H516.31V602.45H514.99zM526.86 558.82H528.18V602.45H526.86zM561.15 558.82H562.47V602.45H561.15zM570.38 558.82H571.70V602.45H570.38zM92.97 602.45H94.29V646.08H92.97zM182.65 602.45H186.61V646.08H182.65zM194.52 602.45H197.16V646.08H194.52zM201.11 602.45H202.43V646.08H201.11zM223.53 602.45H224.85V646.08H223.53zM313.21 602.45H314.53V646.08H313.21zM375.19 602.45H376.51V646.08H375.19zM408.17 602.45H409.48V646.08H408.17zM431.90 602.45H433.22V646.08H431.90zM439.82 602.45H441.14V646.08H439.82zM483.34 602.45H484.66V646.08H483.34zM496.53 602.45H497.84V646.08H496.53zM522.90 602.45H524.22V646.08H522.90zM533.45 602.45H534.77V646.08H533.45zM562.47 602.45H563.78V646.08H562.47zM573.02 602.45H574.33V646.08H573.02zM583.57 602.45H584.89V646.08H583.57zM627.09 602.45H628.41V646.08H627.09zM82.42 646.08H83.74V689.71H82.42zM116.71 646.08H118.03V689.71H116.71zM125.94 646.08H127.26V689.71H125.94zM180.01 646.08H181.33V689.71H180.01zM252.55 646.08H253.86V689.71H252.55zM302.66 646.08H303.98V689.71H302.66zM369.92 646.08H371.24V689.71H369.92zM381.79 646.08H383.11V689.71H381.79zM425.31 646.08H426.63V689.71H425.31zM512.35 646.08H513.67V689.71H512.35zM542.68 646.08H544.00V689.71H542.68zM584.89 646.08H586.20V689.71H584.89zM62.64 689.71H63.96V733.34H62.64zM69.23 689.71H70.55V733.34H69.23zM81.10 689.71H82.42V733.34H81.10zM110.11 689.71H111.43V733.34H110.11zM120.67 689.71H121.98V733.34H120.67zM201.11 689.71H202.43V733.34H201.11zM271.01 689.71H272.33V733.34H271.01zM284.20 689.71H285.52V733.34H284.20zM344.86 689.71H346.18V733.34H344.86zM532.13 689.71H533.45V733.34H532.13zM538.73 689.71H540.05V733.34H538.73zM567.74 689.71H569.06V733.34H567.74zM627.09 689.71H628.41V733.34H627.09zM633.68 689.71H635.00V733.34H633.68zM95.61 733.34H96.93V776.97H95.61zM115.39 733.34H116.71V776.97H115.39zM151.00 733.34H152.32V776.97H151.00zM183.97 733.34H185.29V776.97H183.97zM189.24 733.34H190.56V776.97H189.24zM278.92 733.34H280.24V776.97H278.92zM348.82 733.34H350.14V776.97H348.82zM417.40 733.34H418.72V776.97H417.40zM483.34 733.34H484.66V776.97H483.34zM487.29 733.34H488.61V776.97H487.29zM492.57 733.34H493.89V776.97H492.57zM497.84 733.34H499.16V776.97H497.84zM520.26 733.34H521.58V776.97H520.26zM547.96 733.34H549.28V776.97H547.96zM132.53 776.97H133.85V820.60H132.53zM160.23 776.97H161.55V820.60H160.23zM218.26 776.97H219.58V820.60H218.26zM242.00 776.97H243.31V820.60H242.00zM252.55 776.97H253.86V820.60H252.55zM358.05 776.97H359.37V820.60H358.05zM412.12 776.97H413.44V820.60H412.12zM427.95 776.97H429.27V820.60H427.95zM471.47 776.97H472.79V820.60H471.47zM512.35 776.97H513.67V820.60H512.35zM530.81 776.97H532.13V820.60H530.81zM541.36 776.97H542.68V820.60H541.36zM579.61 776.97H580.93V820.60H579.61zM604.67 776.97H605.99V820.60H604.67zM613.90 776.97H615.22V820.60H613.90zM620.49 776.97H621.81V820.60H620.49z"/>
<path fill="#6666ff" d="M114.07 384.30H115.39V427.93H114.07zM139.13 384.30H140.45V427.93H139.13zM282.88 384.30H285.52V427.93H282.88zM290.79 384.30H293.43V427.93H290.79zM313.21 384.30H314.53V427.93H313.21zM397.61 384.30H398.93V427.93H397.61zM431.90 384.30H433.22V427.93H431.90zM463.56 384.30H464.87V427.93H463.56zM485.97 384.30H487.29V427.93H485.97zM512.35 384.30H513.67V427.93H512.35zM540.05 384.30H541.36V427.93H540.05zM608.62 384.30H611.26V427.93H608.62zM615.22 384.30H616.54V427.93H615.22zM116.71 427.93H118.03V471.56H116.71zM133.85 427.93H135.17V471.56H133.85zM137.81 427.93H139.13V471.56H137.81zM169.46 427.93H170.78V471.56H169.46zM218.26 427.93H219.58V471.56H218.26zM231.44 427.93H232.76V471.56H231.44zM244.63 427.93H245.95V471.56H244.63zM280.24 427.93H281.56V471.56H280.24zM334.31 427.93H335.63V471.56H334.31zM348.82 427.93H350.14V471.56H348.82zM391.02 427.93H392.34V471.56H391.02zM393.66 427.93H394.98V471.56H393.66zM404.21 427.93H405.53V471.56H404.21zM467.51 427.93H468.83V471.56H467.51zM497.84 427.93H499.16V471.56H497.84zM534.77 427.93H537.41V471.56H534.77zM542.68 427.93H544.00V471.56H542.68zM628.41 427.93H629.72V471.56H628.41zM116.71 471.56H118.03V515.19H116.71zM149.68 471.56H151.00V515.19H149.68zM170.78 471.56H172.10V515.19H170.78zM186.61 471.56H187.92V515.19H186.61zM285.52 471.56H286.83V515.19H285.52zM296.07 471.56H297.39V515.19H296.07zM326.40 471.56H327.72V515.19H326.40zM329.04 471.56H330.36V515.19H329.04zM354.09 471.56H355.41V515.19H354.09zM363.33 471.56H364.64V515.19H363.33zM423.99 471.56H425.31V515.19H423.99zM446.41 471.56H447.73V515.19H446.41zM449.05 471.56H450.37V515.19H449.05zM566.42 471.56H567.74V515.19H566.42zM627.09 471.56H628.41V515.19H627.09zM194.52 515.19H195.84V558.82H194.52zM239.36 515.19H240.68V558.82H239.36zM289.47 515.19H290.79V558.82H289.47zM319.81 515.19H321.12V558.82H319.81zM441.14 515.19H442.45V558.82H441.14zM493.89 515.19H496.53V558.82H493.89zM517.63 515.19H518.94V558.82H517.63zM533.45 515.19H534.77V558.82H533.45zM600.71 515.19H603.35V558.82H600.71zM621.81 515.19H623.13V558.82H621.81zM625.77 515.19H627.09V558.82H625.77zM116.71 558.82H118.03V602.45H116.71zM178.69 558.82H180.01V602.45H178.69zM189.24 558.82H190.56V602.45H189.24zM301.34 558.82H302.66V602.45H301.34zM340.91 558.82H342.22V602.45H340.91zM413.44 558.82H414.76V602.45H413.44zM420.03 558.82H421.35V602.45H420.03zM423.99 558.82H425.31V602.45H423.99zM433.22 558.82H434.54V602.45H433.22zM491.25 558.82H492.57V602.45H491.25zM507.08 558.82H508.39V602.45H507.08zM509.71 558.82H511.03V602.45H509.71zM520.26 558.82H521.58V602.45H520.26zM549.28 558.82H550.60V602.45H549.28zM553.23 558.82H554.55V602.45H553.23zM575.65 558.82H576.97V602.45H575.65zM578.29 558.82H579.61V602.45H578.29zM587.52 558.82H588.84V602.45H587.52zM624.45 558.82H625.77V602.45H624.45zM152.32 602.45H153.64V646.08H152.32zM160.23 602.45H161.55V646.08H160.23zM170.78 602.45H172.10V646.08H170.78zM240.68 602.45H242.00V646.08H240.68zM293.43 602.45H294.75V646.08H293.43zM334.31 602.45H336.95V646.08H334.31zM363.33 602.45H364.64V646.08H363.33zM393.66 602.45H394.98V646.08H393.66zM450.37 602.45H451.69V646.08H450.37zM466.19 602.45H467.51V646.08H466.19zM472.79 602.45H474.11V646.08H472.79zM500.48 602.45H501.80V646.08H500.48zM521.58 602.45H522.90V646.08H521.58zM532.13 602.45H533.45V646.08H532.13zM534.77 602.45H536.09V646.08H534.77zM542.68 602.45H544.00V646.08H542.68zM561.15 602.45H562.47V646.08H561.15zM616.54 602.45H617.86V646.08H616.54zM628.41 602.45H629.72V646.08H628.41zM87.69 646.08H89.01V689.71H87.69zM95.61 646.08H96.93V689.71H95.61zM108.80 646.08H110.11V689.71H108.80zM118.03 646.08H119.35V689.71H118.03zM133.85 646.08H135.17V689.71H133.85zM178.69 646.08H180.01V689.71H178.69zM219.58 646.08H220.89V689.71H219.58zM238.04 646.08H239.36V689.71H238.04zM269.69 646.08H272.33V689.71H269.69zM274.97 646.08H276.28V689.71H274.97zM313.21 646.08H314.53V689.71H313.21zM327.72 646.08H329.04V689.71H327.72zM338.27 646.08H339.59V689.71H338.27zM377.83 646.08H379.15V689.71H377.83zM400.25 646.08H401.57V689.71H400.25zM456.96 646.08H458.28V689.71H456.96zM488.61 646.08H489.93V689.71H488.61zM561.15 646.08H562.47V689.71H561.15zM151.00 689.71H152.32V733.34H151.00zM161.55 689.71H162.87V733.34H161.55zM253.86 689.71H255.18V733.34H253.86zM282.88 689.71H284.20V733.34H282.88zM319.81 689.71H321.12V733.34H319.81zM323.76 689.71H325.08V733.34H323.76zM391.02 689.71H392.34V733.34H391.02zM416.08 689.71H417.40V733.34H416.08zM443.77 689.71H445.09V733.34H443.77zM476.74 689.71H478.06V733.34H476.74zM485.97 689.71H487.29V733.34H485.97zM514.99 689.71H517.63V733.34H514.99zM520.26 689.71H521.58V733.34H520.26zM536.09 689.71H537.41V733.34H536.09zM547.96 689.71H549.28V733.34H547.96zM584.89 689.71H586.20V733.34H584.89zM600.71 689.71H602.03V733.34H600.71zM632.36 689.71H633.68V733.34H632.36zM135.17 733.34H136.49V776.97H135.17zM227.49 733.34H228.81V776.97H227.49zM322.44 733.34H323.76V776.97H322.44zM371.24 733.34H372.56V776.97H371.24zM404.21 733.34H405.53V776.97H404.21zM418.72 733.34H421.35V776.97H418.72zM430.58 733.34H431.90V776.97H430.58zM545.32 733.34H546.64V776.97H545.32zM602.03 733.34H603.35V776.97H602.03zM153.64 776.97H154.95V820.60H153.64zM296.07 776.97H297.39V820.60H296.07zM311.89 776.97H313.21V820.60H311.89zM351.46 776.97H352.78V820.60H351.46zM376.51 776.97H377.83V820.60H376.51zM414.76 776.97H416.08V820.60H414.76zM423.99 776.97H425.31V820.60H423.99zM470.15 776.97H471.47V820.60H470.15zM499.16 776.97H500.48V820.60H499.16zM550.60 776.97H551.92V820.60H550.60zM607.31 776.97H608.62V820.60H607.31zM609.94 776.97H611.26V820.60H609.94z"/>
<path fill="#1919ff" d="M127.26 384.30H128.58V427.93H127.26zM129.90 384.30H132.53V427.93H129.90zM154.95 384.30H157.59V427.93H154.95zM190.56 384.30H191.88V427.93H190.56zM202.43 384.30H203.75V427.93H202.43zM214.30 384.30H215.62V427.93H214.30zM230.13 384.30H231.44V427.93H230.13zM236.72 384.30H238.04V427.93H236.72zM257.82 384.30H259.14V427.93H257.82zM318.49 384.30H319.81V427.93H318.49zM352.78 384.30H354.09V427.93H352.78zM372.56 384.30H373.88V427.93H372.56zM384.43 384.30H385.75V427.93H384.43zM449.05 384.30H450.37V427.93H449.05zM621.81 384.30H623.13V427.93H621.81zM629.72 384.30H631.04V427.93H629.72zM127.26 427.93H128.58V471.56H127.26zM152.32 427.93H153.64V471.56H152.32zM226.17 427.93H227.49V471.56H226.17zM289.47 427.93H290.79V471.56H289.47zM303.98 427.93H305.30V471.56H303.98zM322.44 427.93H323.76V471.56H322.44zM326.40 427.93H327.72V471.56H326.40zM412.12 427.93H413.44V471.56H412.12zM450.37 427.93H451.69V471.56H450.37zM483.34 427.93H484.66V471.56H483.34zM491.25 427.93H492.57V471.56H491.25zM544.00 427.93H545.32V471.56H544.00zM583.57 427.93H586.20V471.56H583.57zM600.71 427.93H602.03V471.56H600.71zM633.68 427.93H635.00V471.56H633.68zM128.58 471.56H129.90V515.19H128.58zM136.49 471.56H137.81V515.19H136.49zM153.64 471.56H154.95V515.19H153.64zM172.10 471.56H173.42V515.19H172.10zM230.13 471.56H231.44V515.19H230.13zM302.66 471.56H303.98V515.19H302.66zM401.57 471.56H402.89V515.19H401.57zM429.27 471.56H430.58V515.19H429.27zM438.50 471.56H439.82V515.19H438.50zM450.37 471.56H451.69V515.19H450.37zM455.64 471.56H456.96V515.19H455.64zM612.58 471.56H613.90V515.19H612.58zM133.85 515.19H135.17V558.82H133.85zM183.97 515.19H185.29V558.82H183.97zM191.88 515.19H193.20V558.82H191.88zM203.75 515.19H205.07V558.82H203.75zM209.03 515.19H210.34V558.82H209.03zM230.13 515.19H231.44V558.82H230.13zM305.30 515.19H306.62V558.82H305.30zM318.49 515.19H319.81V558.82H318.49zM347.50 515.19H348.82V558.82H347.50zM350.14 515.19H352.78V558.82H350.14zM404.21 515.19H405.53V558.82H404.21zM504.44 515.19H505.76V558.82H504.44zM605.99 515.19H607.31V558.82H605.99zM63.96 558.82H65.28V602.45H63.96zM121.98 558.82H123.30V602.45H121.98zM309.25 558.82H311.89V602.45H309.25zM334.31 558.82H335.63V602.45H334.31zM354.09 558.82H356.73V602.45H354.09zM367.28 558.82H368.60V602.45H367.28zM381.79 558.82H383.11V602.45H381.79zM404.21 558.82H405.53V602.45H404.21zM482.02 558.82H483.34V602.45H482.02zM540.05 558.82H541.36V602.45H540.05zM567.74 558.82H569.06V602.45H567.74zM164.19 602.45H165.50V646.08H164.19zM247.27 602.45H248.59V646.08H247.27zM379.15 602.45H380.47V646.08H379.15zM404.21 602.45H405.53V646.08H404.21zM603.35 602.45H605.99V646.08H603.35zM131.22 646.08H132.53V689.71H131.22zM186.61 646.08H187.92V689.71H186.61zM207.71 646.08H209.03V689.71H207.71zM332.99 646.08H334.31V689.71H332.99zM346.18 646.08H347.50V689.71H346.18zM429.27 646.08H430.58V689.71H429.27zM483.34 646.08H484.66V689.71H483.34zM530.81 646.08H532.13V689.71H530.81zM588.84 646.08H590.16V689.71H588.84zM598.07 646.08H599.39V689.71H598.07zM63.96 689.71H65.28V733.34H63.96zM190.56 689.71H191.88V733.34H190.56zM195.84 689.71H197.16V733.34H195.84zM205.07 689.71H206.39V733.34H205.07zM224.85 689.71H226.17V733.34H224.85zM259.14 689.71H260.46V733.34H259.14zM276.28 689.71H277.60V733.34H276.28zM387.06 689.71H388.38V733.34H387.06zM431.90 689.71H433.22V733.34H431.90zM463.56 689.71H464.87V733.34H463.56zM466.19 689.71H467.51V733.34H466.19zM540.05 689.71H542.68V733.34H540.05zM550.60 689.71H551.92V733.34H550.60zM571.70 689.71H573.02V733.34H571.70zM607.31 689.71H608.62V733.34H607.31zM612.58 689.71H613.90V733.34H612.58zM164.19 733.34H165.50V776.97H164.19zM190.56 733.34H191.88V776.97H190.56zM293.43 733.34H294.75V776.97H293.43zM296.07 733.34H297.39V776.97H296.07zM359.37 733.34H360.69V776.97H359.37zM454.32 733.34H456.96V776.97H454.32zM470.15 733.34H471.47V776.97H470.15zM496.53 733.34H497.84V776.97H496.53zM516.31 733.34H517.63V776.97H516.31zM521.58 733.34H522.90V776.97H521.58zM562.47 733.34H563.78V776.97H562.47zM584.89 733.34H586.20V776.97H584.89zM628.41 733.34H629.72V776.97H628.41zM110.11 776.97H111.43V820.60H110.11zM131.22 776.97H132.53V820.60H131.22zM164.19 776.97H165.50V820.60H164.19zM194.52 776.97H195.84V820.60H194.52zM342.22 776.97H343.54V820.60H342.22zM360.69 776.97H362.01V820.60H360.69zM388.38 776.97H389.70V820.60H388.38zM418.72 776.97H420.03V820.60H418.72zM536.09 776.97H537.41V820.60H536.09zM584.89 776.97H586.20V820.60H584.89zM612.58 776.97H613.90V820.60H612.58z"/>
<path fill="#ccccff" d="M128.58 384.30H129.90V427.93H128.58zM133.85 384.30H135.17V427.93H133.85zM173.42 384.30H174.74V427.93H173.42zM293.43 384.30H297.39V427.93H293.43zM322.44 384.30H323.76V427.93H322.44zM327.72 384.30H329.04V427.93H327.72zM388.38 384.30H389.70V427.93H388.38zM398.93 384.30H400.25V427.93H398.93zM454.32 384.30H455.64V427.93H454.32zM496.53 384.30H497.84V427.93H496.53zM611.26 384.30H612.58V427.93H611.26zM168.14 427.93H169.46V471.56H168.14zM199.79 427.93H201.11V471.56H199.79zM205.07 427.93H206.39V471.56H205.07zM219.58 427.93H220.89V471.56H219.58zM228.81 427.93H230.13V471.56H228.81zM243.31 427.93H244.63V471.56H243.31zM256.50 427.93H257.82V471.56H256.50zM272.33 427.93H273.65V471.56H272.33zM292.11 427.93H293.43V471.56H292.11zM354.09 427.93H355.41V471.56H354.09zM434.54 427.93H435.86V471.56H434.54zM492.57 427.93H493.89V471.56H492.57zM496.53 427.93H497.84V471.56H496.53zM623.13 427.93H624.45V471.56H623.13zM127.26 471.56H128.58V515.19H127.26zM139.13 471.56H140.45V515.19H139.13zM174.74 471.56H176.06V515.19H174.74zM178.69 471.56H180.01V515.19H178.69zM191.88 471.56H193.20V515.19H191.88zM202.43 471.56H203.75V515.19H202.43zM206.39 471.56H207.71V515.19H206.39zM218.26 471.56H219.58V515.19H218.26zM224.85 471.56H226.17V515.19H224.85zM272.33 471.56H274.97V515.19H272.33zM277.60 471.56H280.24V515.19H277.60zM288.15 471.56H289.47V515.19H288.15zM313.21 471.56H314.53V515.19H313.21zM322.44 471.56H325.08V515.19H322.44zM347.50 471.56H348.82V515.19H347.50zM364.64 471.56H365.96V515.19H364.64zM435.86 471.56H437.18V515.19H435.86zM462.24 471.56H463.56V515.19H462.24zM474.11 471.56H475.42V515.19H474.11zM621.81 471.56H623.13V515.19H621.81zM67.91 515.19H69.23V558.82H67.91zM148.36 515.19H151.00V558.82H148.36zM162.87 515.19H164.19V558.82H162.87zM177.37 515.19H178.69V558.82H177.37zM180.01 515.19H181.33V558.82H180.01zM185.29 515.19H186.61V558.82H185.29zM202.43 515.19H203.75V558.82H202.43zM251.23 515.19H252.55V558.82H251.23zM310.57 515.19H311.89V558.82H310.57zM338.27 515.19H339.59V558.82H338.27zM346.18 515.19H347.50V558.82H346.18zM412.12 515.19H413.44V558.82H412.12zM420.03 515.19H421.35V558.82H420.03zM454.32 515.19H455.64V558.82H454.32zM566.42 515.19H567.74V558.82H566.42zM582.25 515.19H583.57V558.82H582.25zM584.89 515.19H586.20V558.82H584.89zM611.26 515.19H612.58V558.82H611.26zM78.46 558.82H79.78V602.45H78.46zM115.39 558.82H116.71V602.45H115.39zM127.26 558.82H128.58V602.45H127.26zM191.88 558.82H193.20V602.45H191.88zM263.10 558.82H264.42V602.45H263.10zM294.75 558.82H296.07V602.45H294.75zM356.73 558.82H358.05V602.45H356.73zM369.92 558.82H371.24V602.45H369.92zM447.73 558.82H450.37V602.45H447.73zM583.57 558.82H584.89V602.45H583.57zM608.62 558.82H609.94V602.45H608.62zM133.85 602.45H135.17V646.08H133.85zM161.55 602.45H162.87V646.08H161.55zM169.46 602.45H170.78V646.08H169.46zM259.14 602.45H260.46V646.08H259.14zM269.69 602.45H271.01V646.08H269.69zM310.57 602.45H311.89V646.08H310.57zM340.91 602.45H342.22V646.08H340.91zM389.70 602.45H391.02V646.08H389.70zM405.53 602.45H406.85V646.08H405.53zM482.02 602.45H483.34V646.08H482.02zM499.16 602.45H500.48V646.08H499.16zM513.67 602.45H516.31V646.08H513.67zM517.63 602.45H518.94V646.08H517.63zM520.26 602.45H521.58V646.08H520.26zM553.23 602.45H554.55V646.08H553.23zM574.33 602.45H575.65V646.08H574.33zM115.39 646.08H116.71V689.71H115.39zM154.95 646.08H156.27V689.71H154.95zM290.79 646.08H292.11V689.71H290.79zM344.86 646.08H346.18V689.71H344.86zM350.14 646.08H351.46V689.71H350.14zM420.03 646.08H421.35V689.71H420.03zM489.93 646.08H491.25V689.71H489.93zM545.32 646.08H546.64V689.71H545.32zM583.57 646.08H584.89V689.71H583.57zM89.01 689.71H90.33V733.34H89.01zM92.97 689.71H94.29V733.34H92.97zM173.42 689.71H174.74V733.34H173.42zM197.16 689.71H198.47V733.34H197.16zM212.98 689.71H214.30V733.34H212.98zM223.53 689.71H224.85V733.34H223.53zM232.76 689.71H234.08V733.34H232.76zM293.43 689.71H294.75V733.34H293.43zM329.04 689.71H330.36V733.34H329.04zM336.95 689.71H338.27V733.34H336.95zM340.91 689.71H342.22V733.34H340.91zM369.92 689.71H371.24V733.34H369.92zM396.30 689.71H397.61V733.34H396.30zM493.89 689.71H495.21V733.34H493.89zM576.97 689.71H578.29V733.34H576.97zM609.94 689.71H611.26V733.34H609.94zM623.13 689.71H624.45V733.34H623.13zM128.58 733.34H129.90V776.97H128.58zM166.82 733.34H168.14V776.97H166.82zM191.88 733.34H193.20V776.97H191.88zM195.84 733.34H197.16V776.97H195.84zM203.75 733.34H205.07V776.97H203.75zM309.25 733.34H310.57V776.97H309.25zM425.31 733.34H426.63V776.97H425.31zM467.51 733.34H468.83V776.97H467.51zM485.97 733.34H487.29V776.97H485.97zM491.25 733.34H492.57V776.97H491.25zM583.57 733.34H584.89V776.97H583.57zM591.48 733.34H592.80V776.97H591.48zM599.39 733.34H600.71V776.97H599.39zM615.22 733.34H616.54V776.97H615.22zM133.85 776.97H135.17V820.60H133.85zM185.29 776.97H186.61V820.60H185.29zM212.98 776.97H214.30V820.60H212.98zM220.89 776.97H222.21V820.60H220.89zM240.68 776.97H242.00V820.60H240.68zM343.54 776.97H344.86V820.60H343.54zM350.14 776.97H351.46V820.60H350.14zM387.06 776.97H388.38V820.60H387.06zM402.89 776.97H404.21V820.60H402.89zM409.48 776.97H410.80V820.60H409.48zM429.27 776.97H430.58V820.60H429.27zM439.82 776.97H441.14V820.60H439.82zM509.71 776.97H511.03V820.60H509.71zM513.67 776.97H514.99V820.60H513.67zM532.13 776.97H533.45V820.60H532.13zM545.32 776.97H546.64V820.60H545.32zM605.99 776.97H607.31V820.60H605.99z"/>
<path fill="#4d4dff" d="M182.65 384.30H183.97V427.93H182.65zM187.92 384.30H189.24V427.93H187.92zM194.52 384.30H195.84V427.93H194.52zM205.07 384.30H206.39V427.93H205.07zM215.62 384.30H216.94V427.93H215.62zM232.76 384.30H234.08V427.93H232.76zM248.59 384.30H249.91V427.93H248.59zM256.50 384.30H257.82V427.93H256.50zM338.27 384.30H339.59V427.93H338.27zM344.86 384.30H346.18V427.93H344.86zM582.25 384.30H583.57V427.93H582.25zM158.91 427.93H160.23V471.56H158.91zM216.94 427.93H218.26V471.56H216.94zM293.43 427.93H294.75V471.56H293.43zM335.63 427.93H336.95V471.56H335.63zM392.34 427.93H393.66V471.56H392.34zM507.08 427.93H508.39V471.56H507.08zM541.36 427.93H542.68V471.56H541.36zM550.60 427.93H551.92V471.56H550.60zM624.45 427.93H627.09V471.56H624.45zM195.84 471.56H198.47V515.19H195.84zM207.71 471.56H209.03V515.19H207.71zM245.95 471.56H248.59V515.19H245.95zM284.20 471.56H285.52V515.19H284.20zM294.75 471.56H296.07V515.19H294.75zM306.62 471.56H307.94V515.19H306.62zM342.22 471.56H343.54V515.19H342.22zM365.96 471.56H367.28V515.19H365.96zM376.51 471.56H377.83V515.19H376.51zM480.70 471.56H482.02V515.19H480.70zM507.08 471.56H508.39V515.19H507.08zM573.02 471.56H574.33V515.19H573.02zM116.71 515.19H118.03V558.82H116.71zM140.45 515.19H141.77V558.82H140.45zM205.07 515.19H206.39V558.82H205.07zM232.76 515.19H234.08V558.82H232.76zM297.39 515.19H298.70V558.82H297.39zM315.85 515.19H317.17V558.82H315.85zM329.04 515.19H330.36V558.82H329.04zM369.92 515.19H371.24V558.82H369.92zM402.89 515.19H404.21V558.82H402.89zM456.96 515.19H458.28V558.82H456.96zM480.70 515.19H482.02V558.82H480.70zM542.68 515.19H544.00V558.82H542.68zM573.02 515.19H574.33V558.82H573.02zM604.67 515.19H605.99V558.82H604.67zM69.23 558.82H70.55V602.45H69.23zM85.06 558.82H86.38V602.45H85.06zM144.40 558.82H145.72V602.45H144.40zM169.46 558.82H170.78V602.45H169.46zM176.06 558.82H177.37V602.45H176.06zM207.71 558.82H209.03V602.45H207.71zM228.81 558.82H231.44V602.45H228.81zM273.65 558.82H274.97V602.45H273.65zM277.60 558.82H278.92V602.45H277.60zM289.47 558.82H290.79V602.45H289.47zM439.82 558.82H442.45V602.45H439.82zM463.56 558.82H464.87V602.45H463.56zM541.36 558.82H542.68V602.45H541.36zM586.20 558.82H587.52V602.45H586.20zM602.03 558.82H603.35V602.45H602.03zM607.31 558.82H608.62V602.45H607.31zM86.38 602.45H87.69V646.08H86.38zM143.08 602.45H144.40V646.08H143.08zM343.54 602.45H344.86V646.08H343.54zM355.41 602.45H358.05V646.08H355.41zM364.64 602.45H365.96V646.08H364.64zM392.34 602.45H393.66V646.08H392.34zM401.57 602.45H402.89V646.08H401.57zM434.54 602.45H435.86V646.08H434.54zM456.96 602.45H458.28V646.08H456.96zM476.74 602.45H478.06V646.08H476.74zM485.97 602.45H487.29V646.08H485.97zM497.84 602.45H499.16V646.08H497.84zM508.39 602.45H509.71V646.08H508.39zM511.03 602.45H512.35V646.08H511.03zM590.16 602.45H591.48V646.08H590.16zM602.03 602.45H603.35V646.08H602.03zM73.19 646.08H74.51V689.71H73.19zM153.64 646.08H154.95V689.71H153.64zM261.78 646.08H263.10V689.71H261.78zM310.57 646.08H311.89V689.71H310.57zM322.44 646.08H323.76V689.71H322.44zM347.50 646.08H348.82V689.71H347.50zM397.61 646.08H398.93V689.71H397.61zM406.85 646.08H408.17V689.71H406.85zM449.05 646.08H450.37V689.71H449.05zM458.28 646.08H459.60V689.71H458.28zM492.57 646.08H493.89V689.71H492.57zM496.53 646.08H497.84V689.71H496.53zM607.31 646.08H608.62V689.71H607.31zM164.19 689.71H165.50V733.34H164.19zM174.74 689.71H176.06V733.34H174.74zM228.81 689.71H230.13V733.34H228.81zM234.08 689.71H235.40V733.34H234.08zM238.04 689.71H239.36V733.34H238.04zM288.15 689.71H290.79V733.34H288.15zM334.31 689.71H335.63V733.34H334.31zM358.05 689.71H359.37V733.34H358.05zM397.61 689.71H398.93V733.34H397.61zM420.03 689.71H422.67V733.34H420.03zM453.00 689.71H454.32V733.34H453.00zM464.87 689.71H466.19V733.34H464.87zM487.29 689.71H488.61V733.34H487.29zM495.21 689.71H496.53V733.34H495.21zM574.33 689.71H576.97V733.34H574.33zM587.52 689.71H588.84V733.34H587.52zM125.94 733.34H127.26V776.97H125.94zM176.06 733.34H177.37V776.97H176.06zM178.69 733.34H180.01V776.97H178.69zM209.03 733.34H210.34V776.97H209.03zM334.31 733.34H335.63V776.97H334.31zM538.73 733.34H540.05V776.97H538.73zM609.94 733.34H611.26V776.97H609.94zM149.68 776.97H151.00V820.60H149.68zM154.95 776.97H156.27V820.60H154.95zM199.79 776.97H201.11V820.60H199.79zM261.78 776.97H263.10V820.60H261.78zM281.56 776.97H282.88V820.60H281.56zM297.39 776.97H298.70V820.60H297.39zM385.75 776.97H387.06V820.60H385.75zM405.53 776.97H406.85V820.60H405.53zM508.39 776.97H509.71V820.60H508.39z"/>
<path fill="#ff3333" d="M223.53 384.30H224.85V427.93H223.53zM365.96 384.30H367.28V427.93H365.96zM377.83 384.30H379.15V427.93H377.83zM538.73 384.30H540.05V427.93H538.73zM605.99 384.30H607.31V427.93H605.99zM145.72 427.93H147.04V471.56H145.72zM276.28 427.93H277.60V471.56H276.28zM363.33 427.93H364.64V471.56H363.33zM408.17 427.93H409.48V471.56H408.17zM459.60 427.93H460.92V471.56H459.60zM501.80 427.93H503.12V471.56H501.80zM566.42 427.93H567.74V471.56H566.42zM607.31 427.93H609.94V471.56H607.31zM621.81 427.93H623.13V471.56H621.81zM158.91 471.56H160.23V515.19H158.91zM315.85 471.56H317.17V515.19H315.85zM369.92 471.56H371.24V515.19H369.92zM421.35 471.56H422.67V515.19H421.35zM453.00 471.56H454.32V515.19H453.00zM495.21 471.56H496.53V515.19H495.21zM615.22 471.56H616.54V515.19H615.22zM623.13 471.56H624.45V515.19H623.13zM66.59 515.19H67.91V558.82H66.59zM79.78 515.19H81.10V558.82H79.78zM211.66 515.19H212.98V558.82H211.66zM269.69 515.19H271.01V558.82H269.69zM453.00 515.19H454.32V558.82H453.00zM537.41 515.19H538.73V558.82H537.41zM588.84 515.19H590.16V558.82H588.84zM197.16 558.82H198.47V602.45H197.16zM259.14 558.82H260.46V602.45H259.14zM286.83 558.82H288.15V602.45H286.83zM338.27 558.82H339.59V602.45H338.27zM427.95 558.82H429.27V602.45H427.95zM468.83 558.82H470.15V602.45H468.83zM524.22 558.82H525.54V602.45H524.22zM545.32 558.82H546.64V602.45H545.32zM127.26 602.45H128.58V646.08H127.26zM206.39 602.45H207.71V646.08H206.39zM209.03 602.45H210.34V646.08H209.03zM358.05 602.45H359.37V646.08H358.05zM449.05 602.45H450.37V646.08H449.05zM503.12 602.45H504.44V646.08H503.12zM566.42 602.45H567.74V646.08H566.42zM580.93 602.45H582.25V646.08H580.93zM584.89 602.45H586.20V646.08H584.89zM598.07 602.45H599.39V646.08H598.07zM129.90 646.08H131.22V689.71H129.90zM401.57 646.08H402.89V689.71H401.57zM467.51 646.08H468.83V689.71H467.51zM471.47 646.08H472.79V689.71H471.47zM475.42 646.08H478.06V689.71H475.42zM479.38 646.08H480.70V689.71H479.38zM566.42 646.08H567.74V689.71H566.42zM132.53 689.71H135.17V733.34H132.53zM168.14 689.71H169.46V733.34H168.14zM210.34 689.71H211.66V733.34H210.34zM243.31 689.71H244.63V733.34H243.31zM260.46 689.71H261.78V733.34H260.46zM309.25 689.71H310.57V733.34H309.25zM118.03 733.34H119.35V776.97H118.03zM172.10 733.34H173.42V776.97H172.10zM193.20 733.34H194.52V776.97H193.20zM218.26 733.34H219.58V776.97H218.26zM288.15 733.34H289.47V776.97H288.15zM315.85 733.34H317.17V776.97H315.85zM351.46 733.34H352.78V776.97H351.46zM355.41 733.34H356.73V776.97H355.41zM364.64 733.34H365.96V776.97H364.64zM476.74 733.34H478.06V776.97H476.74zM479.38 733.34H480.70V776.97H479.38zM565.10 733.34H566.42V776.97H565.10zM567.74 733.34H569.06V776.97H567.74zM189.24 776.97H193.20V820.60H189.24zM244.63 776.97H245.95V820.60H244.63zM335.63 776.97H336.95V820.60H335.63zM389.70 776.97H391.02V820.60H389.70zM454.32 776.97H455.64V820.60H454.32zM492.57 776.97H493.89V820.60H492.57zM518.94 776.97H520.26V820.60H518.94zM595.44 776.97H598.07V820.60H595.44zM611.26 776.97H612.58V820.60H611.26z"/>
</g>
<g font-family="Liberation Sans, sans-serif" font-size="10.8">
<text x="638.3" y="380.2" font-weight="bold">Type</text>
<text x="638.3" y="410.51">SLC28A2</text>
<text x="638.3" y="454.14">VIP</text>
<text x="638.3" y="497.77">SLC4A4</text>
<text x="638.3" y="541.40">SRI</text>
<text x="638.3" y="585.03">CCL24</text>
<text x="638.3" y="628.66">SERPINE1</text>
<text x="638.3" y="672.29">MMP14</text>
<text x="638.3" y="715.93">TNFAIP6</text>
<text x="638.3" y="759.55">RGS16</text>
<text x="638.3" y="803.19">TIMP1</text>
</g>
<path d="M60.0 406.1L17.5 406.1M60.0 449.7L23.4 449.7M60.0 493.4L25.5 493.4M60.0 537.0L25.5 537.0M25.5 493.4L25.5 537.0M25.5 515.2L23.4 515.2M23.4 449.7L23.4 515.2M23.4 482.5L17.5 482.5M17.5 406.1L17.5 482.5M17.5 444.3L2.9 444.3M60.0 624.3L32.4 624.3M60.0 667.9L33.7 667.9M60.0 711.5L33.7 711.5M33.7 667.9L33.7 711.5M33.7 689.7L32.4 689.7M32.4 624.3L32.4 689.7M32.4 657.0L25.3 657.0M60.0 755.2L30.0 755.2M60.0 798.8L30.0 798.8M30.0 755.2L30.0 798.8M30.0 777.0L25.3 777.0M25.3 657.0L25.3 777.0M25.3 717.0L12.7 717.0M60.0 580.6L12.7 580.6M12.7 580.6L12.7 717.0M12.7 648.8L2.9 648.8M2.9 444.3L2.9 648.8" stroke="#333" stroke-width="1" fill="none"/>
<defs><linearGradient id="hg" x1="0" y1="0" x2="0" y2="1"><stop offset="0" stop-color="#ff0000"/><stop offset="0.35" stop-color="#ff0000"/><stop offset="0.5" stop-color="#ffffff"/><stop offset="0.52" stop-color="#f4f4ff"/><stop offset="0.6375" stop-color="#0000ff"/><stop offset="1" stop-color="#0000ff"/></linearGradient></defs>
<rect x="699.5" y="369.7" width="10.8" height="160.1" fill="url(#hg)"/>
<g font-family="Liberation Sans, sans-serif" font-size="10.8">
<text x="714.6" y="377.50">4</text>
<text x="714.6" y="415.40">2</text>
<text x="714.6" y="453.30">0</text>
<text x="714.6" y="492.80">−2</text>
<text x="714.6" y="530.90">−4</text>
<text x="731" y="378" font-weight="bold">Type</text>
<rect x="731" y="381" width="15.4" height="15.4" fill="#08d4da"/>
<rect x="731" y="396.4" width="15.4" height="15.1" fill="#fd8f87"/>
<text x="750" y="392.8">Normal</text>
<text x="750" y="407.9">Tumor</text>
</g>
<text x="3" y="857.7" font-family="Liberation Serif, serif" font-size="31">D</text>
<g font-family="Liberation Sans, sans-serif" font-size="11.4">
<text x="113.7" y="866.80" text-anchor="end" font-weight="bold">pvalue</text>
<text x="232" y="866.80" text-anchor="end" font-weight="bold">Hazard ratio</text>
<text x="10.8" y="890.10">CCL24</text>
<text x="113.7" y="890.10" text-anchor="end">0.043</text>
<text x="131.8" y="890.10">0.864(0.750−0.995)</text>
<text x="10.8" y="912.50">MMP14</text>
<text x="113.7" y="912.50" text-anchor="end">0.042</text>
<text x="131.8" y="912.50">1.299(1.009−1.672)</text>
<text x="10.8" y="934.90">RGS16</text>
<text x="113.7" y="934.90" text-anchor="end">0.005</text>
<text x="131.8" y="934.90">1.470(1.122−1.927)</text>
<text x="10.8" y="957.30">SERPINE1</text>
<text x="113.7" y="957.30" text-anchor="end">0.003</text>
<text x="131.8" y="957.30">1.319(1.100−1.582)</text>
<text x="10.8" y="979.70">SLC28A2</text>
<text x="113.7" y="979.70" text-anchor="end">0.025</text>
<text x="131.8" y="979.70">0.718(0.538−0.959)</text>
<text x="10.8" y="1002.10">SLC4A4</text>
<text x="113.7" y="1002.10" text-anchor="end">0.014</text>
<text x="131.8" y="1002.10">0.661(0.476−0.918)</text>
<text x="10.8" y="1024.50">SRI</text>
<text x="113.7" y="1024.50" text-anchor="end">0.012</text>
<text x="131.8" y="1024.50">0.601(0.404−0.893)</text>
<text x="10.8" y="1046.90">TIMP1</text>
<text x="113.7" y="1046.90" text-anchor="end">0.002</text>
<text x="131.8" y="1046.90">1.650(1.198−2.273)</text>
<text x="10.8" y="1069.30">TNFAIP6</text>
<text x="113.7" y="1069.30" text-anchor="end">0.049</text>
<text x="131.8" y="1069.30">1.292(1.001−1.666)</text>
<text x="10.8" y="1091.70">VIP</text>
<text x="113.7" y="1091.70" text-anchor="end">0.025</text>
<text x="131.8" y="1091.70">1.232(1.026−1.479)</text>
</g>
<line x1="346.5" y1="858.9" x2="346.5" y2="1098" stroke="#000" stroke-width="2.1" stroke-dasharray="6.1,6.1"/>
<path d="M328.39 886.00H346.19M328.39 881.50v9M346.19 881.50v9" stroke="#00008b" stroke-width="2.1" fill="none"/>
<rect x="332.57" y="882.20" width="8.2" height="7.6" fill="#0000ff"/>
<path d="M347.20 908.40H395.37M347.20 903.90v9M395.37 903.90v9" stroke="#00008b" stroke-width="2.1" fill="none"/>
<rect x="364.17" y="904.60" width="8.2" height="7.6" fill="#ff0000"/>
<path d="M355.41 930.80H413.90M355.41 926.30v9M413.90 926.30v9" stroke="#00008b" stroke-width="2.1" fill="none"/>
<rect x="376.60" y="927.00" width="8.2" height="7.6" fill="#ff0000"/>
<path d="M353.81 953.20H388.83M353.81 948.70v9M388.83 948.70v9" stroke="#00008b" stroke-width="2.1" fill="none"/>
<rect x="365.63" y="949.40" width="8.2" height="7.6" fill="#ff0000"/>
<path d="M312.99 975.60H343.57M312.99 971.10v9M343.57 971.10v9" stroke="#00008b" stroke-width="2.1" fill="none"/>
<rect x="321.96" y="971.80" width="8.2" height="7.6" fill="#0000ff"/>
<path d="M308.48 998.00H340.59M308.48 993.50v9M340.59 993.50v9" stroke="#00008b" stroke-width="2.1" fill="none"/>
<rect x="317.82" y="994.20" width="8.2" height="7.6" fill="#0000ff"/>
<path d="M303.25 1020.40H338.78M303.25 1015.90v9M338.78 1015.90v9" stroke="#00008b" stroke-width="2.1" fill="none"/>
<rect x="313.46" y="1016.60" width="8.2" height="7.6" fill="#0000ff"/>
<path d="M360.93 1042.80H439.03M360.93 1038.30v9M439.03 1038.30v9" stroke="#00008b" stroke-width="2.1" fill="none"/>
<rect x="389.67" y="1039.00" width="8.2" height="7.6" fill="#ff0000"/>
<path d="M346.62 1065.20H394.93M346.62 1060.70v9M394.93 1060.70v9" stroke="#00008b" stroke-width="2.1" fill="none"/>
<rect x="363.66" y="1061.40" width="8.2" height="7.6" fill="#ff0000"/>
<path d="M348.44 1087.60H381.35M348.44 1083.10v9M381.35 1083.10v9" stroke="#00008b" stroke-width="2.1" fill="none"/>
<rect x="359.30" y="1083.80" width="8.2" height="7.6" fill="#ff0000"/>
<path d="M273.9 1098.6H419.2" stroke="#333" stroke-width="1.1"/>
<g font-family="Liberation Sans, sans-serif" font-size="13" text-anchor="middle">
<path d="M273.90 1098.6v7" stroke="#333" stroke-width="1.1"/>
<text x="273.90" y="1118">0.0</text>
<path d="M310.22 1098.6v7" stroke="#333" stroke-width="1.1"/>
<text x="310.22" y="1118">0.5</text>
<path d="M346.55 1098.6v7" stroke="#333" stroke-width="1.1"/>
<text x="346.55" y="1118">1.0</text>
<path d="M382.88 1098.6v7" stroke="#333" stroke-width="1.1"/>
<text x="382.88" y="1118">1.5</text>
<path d="M419.20 1098.6v7" stroke="#333" stroke-width="1.1"/>
<text x="419.20" y="1118">2.0</text>
<text x="356.3" y="1140.5" font-size="13.6">Hazard ratio</text>
</g>
<text x="492.5" y="858.6" font-family="Liberation Serif, serif" font-size="31">E</text>
<path d="M646.3 866.9Q620.7 923.9 649.1 981.6" fill="none" stroke="#0000ff" stroke-opacity="0.26" stroke-width="2.6"/>
<path d="M656.1 985.9Q723.7 986.7 763.2 1032.6" fill="none" stroke="#f23c64" stroke-opacity="0.29" stroke-width="2.5"/>
<path d="M648.5 989.8Q604.5 1049.9 539.8 1054.8" fill="none" stroke="#f23c64" stroke-opacity="0.31" stroke-width="2.5"/>
<path d="M538.7 1058.2Q579.9 1092.0 626.0 1089.2" fill="none" stroke="#f23c64" stroke-opacity="0.27" stroke-width="2.5"/>
<path d="M632.3 1030.8Q689.3 1003.5 761.9 1034.4" fill="none" stroke="#f23c64" stroke-opacity="0.42" stroke-width="2.8"/>
<path d="M539.4 1053.3Q610.7 1025.6 692.3 1069.9" fill="none" stroke="#f23c64" stroke-opacity="0.45" stroke-width="2.9"/>
<path d="M538.7 1052.0Q571.5 1025.7 623.2 1032.2" fill="none" stroke="#f23c64" stroke-opacity="0.50" stroke-width="3.0"/>
<path d="M652.8 990.5Q666.7 1037.0 633.6 1084.9" fill="none" stroke="#f23c64" stroke-opacity="0.45" stroke-width="2.9"/>
<path d="M762.9 1039.7Q737.7 1064.6 701.2 1071.4" fill="none" stroke="#f23c64" stroke-opacity="0.55" stroke-width="3.2"/>
<path d="M626.2 1037.3Q617.6 1060.2 628.7 1084.5" fill="none" stroke="#f23c64" stroke-opacity="0.60" stroke-width="3.3"/>
<path d="M651.0 990.7Q648.7 1017.8 632.0 1030.3" fill="none" stroke="#f23c64" stroke-opacity="0.62" stroke-width="3.5"/>
<path d="M655.4 988.3Q693.4 1012.0 696.3 1067.4" fill="none" stroke="#f23c64" stroke-opacity="0.70" stroke-width="3.6"/>
<path d="M691.7 1071.8Q656.6 1069.4 634.6 1085.8" fill="none" stroke="#f23c64" stroke-opacity="0.70" stroke-width="3.6"/>
<path d="M761.5 1035.8Q688.5 1029.1 634.1 1085.3" fill="none" stroke="#f23c64" stroke-opacity="0.72" stroke-width="3.6"/>
<path d="M632.8 1033.3Q667.5 1037.5 693.5 1068.5" fill="none" stroke="#f23c64" stroke-opacity="0.78" stroke-width="3.9"/>
<g font-family="Liberation Serif, serif" font-size="7.6" font-weight="bold" text-anchor="middle">
<text x="648.3" y="865.3">SRI</text>
<text x="651.3" y="988.6">RGS16</text>
<text x="628.0" y="1035.6">TNFAIP6</text>
<text x="766.3" y="1039.0">VIP</text>
<text x="535.0" y="1057.8">TIMP1</text>
<text x="696.5" y="1074.9">MMP14</text>
<text x="630.8" y="1091.5">SERPINE1</text>
</g>
<defs><linearGradient id="eg" x1="0" y1="0" x2="1" y2="0"><stop offset="0" stop-color="#ff3a5e"/><stop offset="0.5" stop-color="#ffffff"/><stop offset="1" stop-color="#0000ff"/></linearGradient></defs>
<rect x="591.7" y="1121.3" width="117.3" height="24.8" fill="url(#eg)"/>
<g font-family="Liberation Sans, sans-serif" font-size="10" text-anchor="middle">
<text x="592.0" y="1112.8">1</text>
<text x="621.2" y="1112.8">0.5</text>
<text x="650.4" y="1112.8">0</text>
<text x="680.2" y="1112.8">−0.5</text>
<text x="708.1" y="1112.8">−1</text>
</g>
</svg></body></html>
